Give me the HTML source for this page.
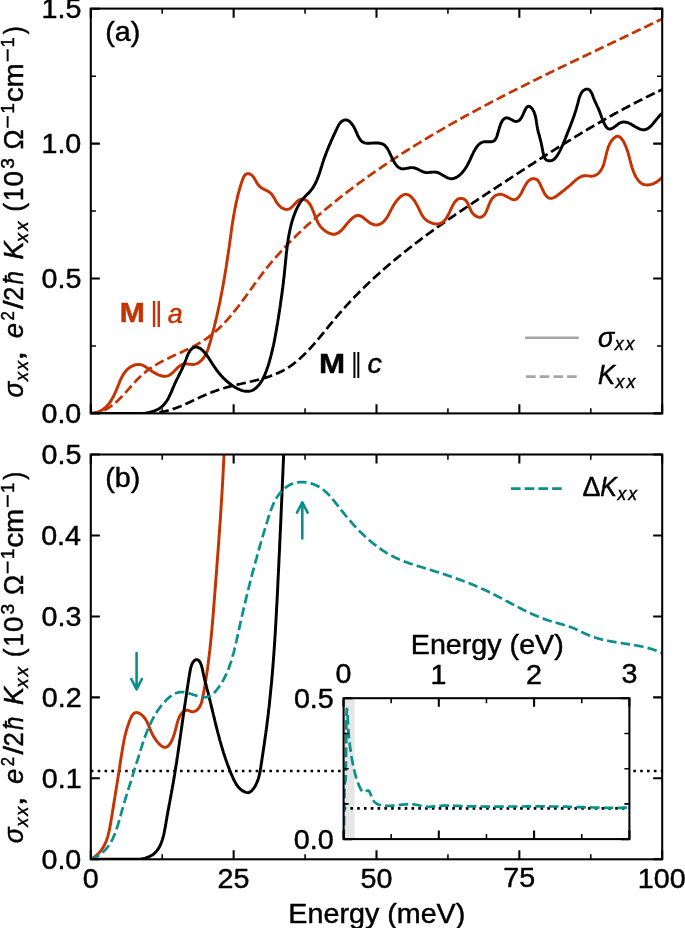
<!DOCTYPE html>
<html><head><meta charset="utf-8"><style>
html,body{margin:0;padding:0;background:#fff;}
svg{display:block;font-family:"Liberation Sans",sans-serif;-webkit-font-smoothing:antialiased;}
svg{will-change:transform;}
text{stroke-width:0.45px;}
</style></head><body>
<svg width="685" height="928" viewBox="0 0 685 928">
<rect width="685" height="928" fill="#fff"/>
<defs>
<clipPath id="ca"><rect x="90.8" y="8.6" width="571.4000000000001" height="404.79999999999995"/></clipPath>
<clipPath id="cb"><rect x="90.8" y="454.5" width="571.4000000000001" height="404.79999999999995"/></clipPath>
<clipPath id="ci"><rect x="343.6" y="698.2" width="285.79999999999995" height="140.89999999999998"/></clipPath>
</defs>
<g clip-path="url(#ca)" fill="none" stroke-linejoin="round">
<path d="M91.2,414.2 92.3,414.1 93.3,413.9 94.4,413.7 95.4,413.5 96.4,413.2 97.4,413.0 98.4,412.7 99.4,412.4 100.3,412.0 101.2,411.7 102.2,411.3 103.1,410.9 104.0,410.5 104.8,410.0 105.7,409.6 106.6,409.1 107.4,408.6 108.2,408.1 109.0,407.6 109.9,407.0 110.6,406.5 111.4,405.9 112.2,405.3 113.0,404.7 113.7,404.1 114.5,403.5 115.2,402.9 116.0,402.2 116.7,401.6 117.4,400.9 118.1,400.3 118.8,399.6 119.5,398.9 120.2,398.2 120.9,397.5 121.6,396.8 122.3,396.1 123.0,395.3 123.7,394.6 124.3,393.9 125.0,393.1 125.7,392.4 126.4,391.6 127.0,390.9 127.7,390.1 128.4,389.4 129.0,388.6 129.7,387.9 130.4,387.1 131.0,386.4 131.7,385.6 132.4,384.9 133.0,384.1 133.7,383.4 134.4,382.7 135.1,381.9 135.8,381.2 136.4,380.5 137.1,379.7 137.8,379.0 138.5,378.3 139.2,377.6 140.0,376.9 140.7,376.2 141.4,375.5 142.1,374.8 142.9,374.2 143.6,373.5 144.4,372.9 145.2,372.2 145.9,371.6 146.7,371.0 147.5,370.4 148.3,369.8 149.1,369.2 149.9,368.7 150.7,368.1 151.6,367.5 152.4,367.0 153.2,366.4 154.1,365.9 154.9,365.4 155.8,364.9 156.7,364.4 157.5,363.9 158.4,363.4 159.3,362.9 160.2,362.4 161.1,361.9 161.9,361.4 162.8,361.0 163.7,360.5 164.6,360.0 165.5,359.6 166.5,359.1 167.4,358.7 168.3,358.2 169.2,357.8 170.1,357.4 171.0,356.9 171.9,356.5 172.9,356.1 173.8,355.6 174.7,355.2 175.6,354.8 176.6,354.4 177.5,353.9 178.4,353.5 179.3,353.1 180.3,352.7 181.2,352.2 182.1,351.8 183.0,351.4 184.0,351.0 184.9,350.5 185.8,350.1 186.7,349.7 187.6,349.2 188.5,348.8 189.4,348.3 190.3,347.9 191.2,347.5 192.1,347.0 193.0,346.6 193.9,346.1 194.8,345.6 195.7,345.2 196.5,344.7 197.4,344.2 198.3,343.7 199.1,343.2 200.0,342.7 200.8,342.2 201.7,341.7 202.5,341.2 203.3,340.7 204.1,340.1 205.0,339.6 205.8,339.1 206.6,338.5 207.4,337.9 208.1,337.4 208.9,336.8 209.7,336.2 210.5,335.6 211.2,335.0 212.0,334.4 212.7,333.8 213.5,333.2 214.2,332.6 215.0,331.9 215.7,331.3 216.4,330.7 217.1,330.0 217.8,329.4 218.6,328.7 219.3,328.1 220.0,327.4 220.7,326.7 221.3,326.0 222.0,325.3 222.7,324.6 223.4,324.0 224.1,323.3 224.7,322.5 225.4,321.8 226.0,321.1 226.7,320.4 227.4,319.7 228.0,319.0 228.6,318.2 229.3,317.5 229.9,316.7 230.6,316.0 231.2,315.3 231.8,314.5 232.4,313.7 233.1,313.0 233.7,312.2 234.3,311.5 234.9,310.7 235.5,309.9 236.1,309.2 236.7,308.4 237.4,307.6 238.0,306.8 238.6,306.0 239.2,305.2 239.8,304.5 240.4,303.7 240.9,302.9 241.5,302.1 242.1,301.3 242.7,300.5 243.3,299.7 243.9,298.9 244.5,298.1 245.1,297.3 245.7,296.5 246.3,295.7 246.8,294.9 247.4,294.1 248.0,293.2 248.6,292.4 249.2,291.6 249.8,290.8 250.3,290.0 250.9,289.2 251.5,288.4 252.1,287.6 252.7,286.8 253.3,285.9 253.9,285.1 254.4,284.3 255.0,283.5 255.6,282.7 256.2,281.9 256.8,281.1 257.4,280.3 258.0,279.5 258.6,278.7 259.2,277.9 259.8,277.0 260.4,276.2 261.0,275.4 261.6,274.6 262.2,273.9 262.8,273.1 263.4,272.3 264.0,271.5 264.6,270.7 265.3,269.9 265.9,269.1 266.5,268.3 267.1,267.5 267.8,266.8 268.4,266.0 269.0,265.2 269.7,264.4 270.3,263.7 270.9,262.9 271.6,262.1 272.2,261.4 272.9,260.6 273.5,259.9 274.2,259.1 274.8,258.3 275.5,257.6 276.1,256.8 276.8,256.1 277.5,255.3 278.1,254.6 278.8,253.8 279.5,253.1 280.1,252.4 280.8,251.6 281.5,250.9 282.1,250.2 282.8,249.4 283.5,248.7 284.2,248.0 284.9,247.2 285.6,246.5 286.2,245.8 286.9,245.1 287.6,244.3 288.3,243.6 289.0,242.9 289.7,242.2 290.4,241.5 291.1,240.8 291.8,240.1 292.5,239.4 293.2,238.6 293.9,237.9 294.7,237.2 295.4,236.5 296.1,235.8 296.8,235.1 297.5,234.4 298.2,233.8 299.0,233.1 299.7,232.4 300.4,231.7 301.1,231.0 301.8,230.3 302.6,229.6 303.3,228.9 304.0,228.3 304.8,227.6 305.5,226.9 306.2,226.2 307.0,225.6 307.7,224.9 308.4,224.2 309.2,223.5 309.9,222.9 310.7,222.2 311.4,221.5 312.2,220.9 312.9,220.2 313.7,219.5 314.4,218.9 315.2,218.2 315.9,217.6 316.7,216.9 317.4,216.3 318.2,215.6 318.9,215.0 319.7,214.3 320.4,213.7 321.2,213.0 322.0,212.4 322.7,211.7 323.5,211.1 324.3,210.4 325.0,209.8 325.8,209.1 326.6,208.5 327.3,207.9 328.1,207.2 328.9,206.6 329.6,206.0 330.4,205.3 331.2,204.7 331.9,204.1 332.7,203.4 333.5,202.8 334.3,202.2 335.0,201.6 335.8,200.9 336.6,200.3 337.4,199.7 338.2,199.1 338.9,198.4 339.7,197.8 340.5,197.2 341.3,196.6 342.1,196.0 342.9,195.4 343.6,194.7 344.4,194.1 345.2,193.5 346.0,192.9 346.8,192.3 347.6,191.7 348.4,191.1 349.2,190.5 350.0,189.9 350.8,189.3 351.6,188.7 352.3,188.1 353.1,187.5 353.9,186.9 354.7,186.3 355.5,185.7 356.3,185.1 357.1,184.5 357.9,183.9 358.7,183.3 359.5,182.7 360.3,182.1 361.2,181.6 362.0,181.0 362.8,180.4 363.6,179.8 364.4,179.2 365.2,178.6 366.0,178.0 366.8,177.5 367.6,176.9 368.4,176.3 369.2,175.7 370.0,175.2 370.9,174.6 371.7,174.0 372.5,173.4 373.3,172.9 374.1,172.3 374.9,171.7 375.8,171.1 376.6,170.6 377.4,170.0 378.2,169.4 379.0,168.9 379.9,168.3 380.7,167.8 381.5,167.2 382.3,166.6 383.2,166.1 384.0,165.5 384.8,165.0 385.6,164.4 386.5,163.8 387.3,163.3 388.1,162.7 388.9,162.2 389.8,161.6 390.6,161.1 391.4,160.5 392.3,160.0 393.1,159.4 393.9,158.9 394.8,158.3 395.6,157.8 396.4,157.2 397.3,156.7 398.1,156.1 398.9,155.6 399.8,155.1 400.6,154.5 401.5,154.0 402.3,153.4 403.1,152.9 404.0,152.4 404.8,151.8 405.7,151.3 406.5,150.8 407.3,150.2 408.2,149.7 409.0,149.2 409.9,148.6 410.7,148.1 411.6,147.6 412.4,147.1 413.3,146.5 414.1,146.0 415.0,145.5 415.8,144.9 416.7,144.4 417.5,143.9 418.4,143.4 419.2,142.9 420.1,142.3 420.9,141.8 421.8,141.3 422.6,140.8 423.5,140.3 424.3,139.7 425.2,139.2 426.0,138.7 426.9,138.2 427.8,137.7 428.6,137.2 429.5,136.7 430.3,136.1 431.2,135.6 432.1,135.1 432.9,134.6 433.8,134.1 434.6,133.6 435.5,133.1 436.4,132.6 437.2,132.1 438.1,131.6 438.9,131.1 439.8,130.6 440.7,130.1 441.5,129.6 442.4,129.1 443.3,128.6 444.1,128.1 445.0,127.6 445.9,127.1 446.7,126.6 447.6,126.1 448.5,125.6 449.3,125.1 450.2,124.6 451.1,124.1 452.0,123.6 452.8,123.1 453.7,122.6 454.6,122.1 455.4,121.7 456.3,121.2 457.2,120.7 458.1,120.2 458.9,119.7 459.8,119.2 460.7,118.7 461.6,118.2 462.4,117.8 463.3,117.3 464.2,116.8 465.1,116.3 465.9,115.8 466.8,115.3 467.7,114.9 468.6,114.4 469.5,113.9 470.3,113.4 471.2,112.9 472.1,112.5 473.0,112.0 473.9,111.5 474.7,111.0 475.6,110.6 476.5,110.1 477.4,109.6 478.3,109.1 479.1,108.7 480.0,108.2 480.9,107.7 481.8,107.2 482.7,106.8 483.6,106.3 484.5,105.8 485.3,105.4 486.2,104.9 487.1,104.4 488.0,104.0 488.9,103.5 489.8,103.0 490.7,102.6 491.5,102.1 492.4,101.6 493.3,101.2 494.2,100.7 495.1,100.2 496.0,99.8 496.9,99.3 497.8,98.9 498.7,98.4 499.5,97.9 500.4,97.5 501.3,97.0 502.2,96.6 503.1,96.1 504.0,95.6 504.9,95.2 505.8,94.7 506.7,94.3 507.6,93.8 508.5,93.3 509.3,92.9 510.2,92.4 511.1,92.0 512.0,91.5 512.9,91.1 513.8,90.6 514.7,90.2 515.6,89.7 516.5,89.3 517.4,88.8 518.3,88.4 519.2,87.9 520.1,87.5 521.0,87.0 521.9,86.6 522.8,86.1 523.7,85.7 524.6,85.2 525.5,84.8 526.4,84.3 527.2,83.9 528.1,83.4 529.0,83.0 529.9,82.5 530.8,82.1 531.7,81.6 532.6,81.2 533.5,80.7 534.4,80.3 535.3,79.9 536.2,79.4 537.1,79.0 538.0,78.5 538.9,78.1 539.8,77.6 540.7,77.2 541.6,76.8 542.5,76.3 543.4,75.9 544.3,75.4 545.2,75.0 546.1,74.5 547.0,74.1 547.9,73.7 548.8,73.2 549.7,72.8 550.6,72.3 551.5,71.9 552.4,71.5 553.3,71.0 554.2,70.6 555.1,70.2 556.0,69.7 556.9,69.3 557.8,68.8 558.7,68.4 559.6,68.0 560.5,67.5 561.4,67.1 562.3,66.7 563.2,66.2 564.1,65.8 565.0,65.4 565.9,64.9 566.8,64.5 567.7,64.1 568.6,63.6 569.5,63.2 570.4,62.8 571.3,62.3 572.2,61.9 573.1,61.5 574.1,61.0 575.0,60.6 575.9,60.2 576.8,59.7 577.7,59.3 578.6,58.9 579.5,58.4 580.4,58.0 581.3,57.6 582.2,57.1 583.1,56.7 584.0,56.3 584.9,55.8 585.8,55.4 586.7,55.0 587.6,54.6 588.5,54.1 589.4,53.7 590.3,53.3 591.2,52.8 592.1,52.4 593.0,52.0 593.9,51.5 594.8,51.1 595.7,50.7 596.6,50.3 597.5,49.8 598.4,49.4 599.3,49.0 600.2,48.5 601.1,48.1 602.0,47.7 602.9,47.3 603.8,46.8 604.7,46.4 605.6,46.0 606.5,45.5 607.4,45.1 608.3,44.7 609.2,44.3 610.1,43.8 611.0,43.4 611.9,43.0 612.8,42.5 613.7,42.1 614.6,41.7 615.5,41.3 616.4,40.8 617.3,40.4 618.2,40.0 619.1,39.5 620.0,39.1 620.9,38.7 621.8,38.3 622.7,37.8 623.6,37.4 624.5,37.0 625.4,36.5 626.3,36.1 627.2,35.7 628.1,35.3 629.0,34.8 629.9,34.4 630.7,34.0 631.6,33.5 632.5,33.1 633.4,32.7 634.3,32.3 635.2,31.8 636.1,31.4 637.0,31.0 637.9,30.5 638.8,30.1 639.7,29.7 640.6,29.3 641.5,28.8 642.4,28.4 643.3,28.0 644.2,27.5 645.1,27.1 646.0,26.7 646.8,26.3 647.7,25.8 648.6,25.4 649.5,25.0 650.4,24.5 651.3,24.1 652.2,23.7 653.1,23.2 654.0,22.8 654.9,22.4 655.8,22.0 656.6,21.5 657.5,21.1 658.4,20.7 659.3,20.2 660.2,19.8 661.1,19.4 662.0,18.9 662.9,18.5" stroke="#c43300" stroke-width="2.7" stroke-dasharray="9.6 4.1"/>
<path d="M91.0,413.1 92.0,413.1 93.0,413.1 94.0,413.1 94.9,413.1 95.9,413.1 96.9,413.1 97.9,413.1 98.9,413.1 99.9,413.2 100.9,413.2 101.9,413.2 102.9,413.2 103.9,413.3 104.9,413.3 105.9,413.3 106.9,413.4 107.9,413.4 108.9,413.4 109.9,413.5 110.9,413.5 111.9,413.5 112.9,413.6 113.9,413.6 114.9,413.6 115.9,413.7 116.9,413.7 118.0,413.8 119.0,413.8 120.0,413.8 121.0,413.9 122.0,413.9 123.0,413.9 124.0,414.0 125.0,414.0 126.1,414.0 127.1,414.0 128.1,414.1 129.1,414.1 130.1,414.1 131.1,414.1 132.1,414.1 133.2,414.1 134.2,414.1 135.2,414.1 136.2,414.1 137.2,414.1 138.2,414.1 139.2,414.1 140.2,414.1 141.2,414.0 142.2,414.0 143.2,414.0 144.2,413.9 145.2,413.9 146.2,413.8 147.2,413.7 148.2,413.7 149.2,413.6 150.2,413.5 151.2,413.4 152.2,413.3 153.2,413.2 154.2,413.1 155.2,413.0 156.1,412.9 157.1,412.7 158.1,412.6 159.1,412.4 160.0,412.3 161.0,412.1 162.0,411.9 162.9,411.7 163.9,411.5 164.8,411.3 165.8,411.1 166.7,410.9 167.7,410.6 168.6,410.4 169.6,410.1 170.5,409.8 171.5,409.5 172.4,409.3 173.3,408.9 174.2,408.6 175.2,408.3 176.1,408.0 177.0,407.6 177.9,407.3 178.8,406.9 179.7,406.6 180.7,406.2 181.6,405.8 182.5,405.4 183.4,405.0 184.3,404.6 185.2,404.2 186.1,403.8 187.0,403.4 187.9,403.0 188.8,402.6 189.7,402.2 190.6,401.8 191.4,401.3 192.3,400.9 193.2,400.5 194.1,400.1 195.0,399.7 195.9,399.2 196.8,398.8 197.7,398.4 198.6,398.0 199.5,397.6 200.4,397.1 201.3,396.7 202.2,396.3 203.1,395.9 204.0,395.5 204.9,395.1 205.8,394.7 206.7,394.3 207.7,394.0 208.6,393.6 209.5,393.2 210.4,392.8 211.3,392.5 212.2,392.1 213.2,391.7 214.1,391.4 215.0,391.0 216.0,390.7 216.9,390.4 217.8,390.1 218.8,389.7 219.7,389.4 220.7,389.1 221.6,388.8 222.6,388.5 223.6,388.2 224.5,388.0 225.5,387.7 226.5,387.4 227.4,387.1 228.4,386.9 229.4,386.6 230.3,386.4 231.3,386.1 232.3,385.9 233.3,385.6 234.3,385.4 235.2,385.1 236.2,384.9 237.2,384.7 238.2,384.4 239.2,384.2 240.2,384.0 241.2,383.8 242.1,383.5 243.1,383.3 244.1,383.1 245.1,382.9 246.1,382.6 247.1,382.4 248.1,382.2 249.0,382.0 250.0,381.7 251.0,381.5 252.0,381.3 253.0,381.0 253.9,380.8 254.9,380.6 255.9,380.3 256.9,380.1 257.8,379.8 258.8,379.6 259.7,379.3 260.7,379.0 261.7,378.8 262.6,378.5 263.6,378.2 264.5,378.0 265.5,377.7 266.4,377.4 267.3,377.1 268.3,376.8 269.2,376.5 270.1,376.2 271.0,375.8 271.9,375.5 272.9,375.2 273.8,374.8 274.7,374.5 275.6,374.1 276.4,373.7 277.3,373.3 278.2,372.9 279.1,372.5 279.9,372.1 280.8,371.7 281.7,371.3 282.5,370.8 283.4,370.4 284.2,369.9 285.0,369.5 285.8,369.0 286.7,368.5 287.5,368.0 288.3,367.5 289.1,367.0 289.9,366.4 290.6,365.9 291.4,365.3 292.2,364.8 293.0,364.2 293.7,363.6 294.5,363.0 295.3,362.4 296.0,361.8 296.7,361.2 297.5,360.6 298.2,360.0 299.0,359.4 299.7,358.7 300.4,358.1 301.1,357.4 301.8,356.8 302.6,356.1 303.3,355.4 304.0,354.7 304.7,354.0 305.4,353.4 306.1,352.7 306.7,352.0 307.4,351.2 308.1,350.5 308.8,349.8 309.5,349.1 310.2,348.4 310.8,347.6 311.5,346.9 312.2,346.1 312.8,345.4 313.5,344.7 314.2,343.9 314.8,343.1 315.5,342.4 316.1,341.6 316.8,340.9 317.4,340.1 318.1,339.3 318.7,338.5 319.4,337.8 320.0,337.0 320.7,336.2 321.3,335.4 322.0,334.6 322.6,333.8 323.3,333.1 323.9,332.3 324.6,331.5 325.2,330.7 325.8,329.9 326.5,329.1 327.1,328.3 327.8,327.5 328.4,326.7 329.1,325.9 329.7,325.1 330.3,324.3 331.0,323.6 331.6,322.8 332.3,322.0 332.9,321.2 333.6,320.4 334.2,319.6 334.9,318.8 335.5,318.1 336.2,317.3 336.8,316.5 337.5,315.7 338.2,315.0 338.8,314.2 339.5,313.4 340.2,312.7 340.8,311.9 341.5,311.1 342.2,310.4 342.8,309.6 343.5,308.9 344.2,308.1 344.9,307.4 345.5,306.6 346.2,305.9 346.9,305.1 347.6,304.4 348.3,303.6 348.9,302.9 349.6,302.2 350.3,301.4 351.0,300.7 351.7,300.0 352.4,299.2 353.1,298.5 353.8,297.8 354.5,297.0 355.2,296.3 355.9,295.6 356.6,294.9 357.3,294.2 358.0,293.5 358.7,292.7 359.4,292.0 360.1,291.3 360.8,290.6 361.5,289.9 362.2,289.2 362.9,288.5 363.7,287.8 364.4,287.1 365.1,286.4 365.8,285.7 366.5,285.0 367.3,284.3 368.0,283.6 368.7,282.9 369.4,282.3 370.2,281.6 370.9,280.9 371.6,280.2 372.3,279.5 373.1,278.9 373.8,278.2 374.5,277.5 375.3,276.8 376.0,276.2 376.7,275.5 377.5,274.8 378.2,274.2 379.0,273.5 379.7,272.8 380.5,272.2 381.2,271.5 381.9,270.8 382.7,270.2 383.4,269.5 384.2,268.9 384.9,268.2 385.7,267.6 386.4,266.9 387.2,266.3 388.0,265.6 388.7,265.0 389.5,264.3 390.2,263.7 391.0,263.0 391.7,262.4 392.5,261.8 393.3,261.1 394.0,260.5 394.8,259.8 395.6,259.2 396.3,258.6 397.1,257.9 397.9,257.3 398.6,256.7 399.4,256.1 400.2,255.4 400.9,254.8 401.7,254.2 402.5,253.6 403.3,252.9 404.0,252.3 404.8,251.7 405.6,251.1 406.4,250.5 407.2,249.9 407.9,249.2 408.7,248.6 409.5,248.0 410.3,247.4 411.1,246.8 411.9,246.2 412.6,245.6 413.4,245.0 414.2,244.4 415.0,243.8 415.8,243.2 416.6,242.6 417.4,242.0 418.2,241.4 419.0,240.8 419.8,240.2 420.5,239.6 421.3,239.0 422.1,238.4 422.9,237.8 423.7,237.2 424.5,236.6 425.3,236.0 426.1,235.4 426.9,234.8 427.7,234.2 428.5,233.6 429.3,233.1 430.1,232.5 430.9,231.9 431.7,231.3 432.6,230.7 433.4,230.1 434.2,229.6 435.0,229.0 435.8,228.4 436.6,227.8 437.4,227.2 438.2,226.7 439.0,226.1 439.8,225.5 440.6,224.9 441.5,224.4 442.3,223.8 443.1,223.2 443.9,222.6 444.7,222.1 445.5,221.5 446.3,220.9 447.2,220.4 448.0,219.8 448.8,219.2 449.6,218.7 450.4,218.1 451.2,217.5 452.1,217.0 452.9,216.4 453.7,215.8 454.5,215.3 455.3,214.7 456.2,214.1 457.0,213.6 457.8,213.0 458.6,212.5 459.5,211.9 460.3,211.3 461.1,210.8 461.9,210.2 462.8,209.7 463.6,209.1 464.4,208.6 465.2,208.0 466.1,207.4 466.9,206.9 467.7,206.3 468.5,205.8 469.4,205.2 470.2,204.7 471.0,204.1 471.9,203.6 472.7,203.0 473.5,202.4 474.3,201.9 475.2,201.3 476.0,200.8 476.8,200.2 477.7,199.7 478.5,199.1 479.3,198.6 480.2,198.0 481.0,197.5 481.8,196.9 482.7,196.4 483.5,195.8 484.3,195.3 485.2,194.7 486.0,194.2 486.8,193.6 487.7,193.1 488.5,192.5 489.3,192.0 490.2,191.5 491.0,190.9 491.8,190.4 492.7,189.8 493.5,189.3 494.3,188.7 495.2,188.2 496.0,187.6 496.8,187.1 497.7,186.5 498.5,186.0 499.3,185.4 500.2,184.9 501.0,184.3 501.8,183.8 502.7,183.2 503.5,182.7 504.4,182.2 505.2,181.6 506.0,181.1 506.9,180.5 507.7,180.0 508.5,179.4 509.4,178.9 510.2,178.3 511.0,177.8 511.9,177.2 512.7,176.7 513.6,176.1 514.4,175.6 515.2,175.0 516.1,174.5 516.9,174.0 517.7,173.4 518.6,172.9 519.4,172.3 520.2,171.8 521.1,171.2 521.9,170.7 522.8,170.1 523.6,169.6 524.4,169.0 525.3,168.5 526.1,168.0 526.9,167.4 527.8,166.9 528.6,166.3 529.5,165.8 530.3,165.2 531.1,164.7 532.0,164.2 532.8,163.6 533.7,163.1 534.5,162.5 535.3,162.0 536.2,161.4 537.0,160.9 537.9,160.4 538.7,159.8 539.5,159.3 540.4,158.7 541.2,158.2 542.1,157.7 542.9,157.1 543.7,156.6 544.6,156.0 545.4,155.5 546.3,155.0 547.1,154.4 548.0,153.9 548.8,153.4 549.6,152.8 550.5,152.3 551.3,151.7 552.2,151.2 553.0,150.7 553.9,150.1 554.7,149.6 555.5,149.1 556.4,148.5 557.2,148.0 558.1,147.5 558.9,146.9 559.8,146.4 560.6,145.9 561.5,145.4 562.3,144.8 563.2,144.3 564.0,143.8 564.9,143.2 565.7,142.7 566.6,142.2 567.4,141.7 568.3,141.1 569.1,140.6 570.0,140.1 570.8,139.6 571.7,139.0 572.5,138.5 573.4,138.0 574.2,137.5 575.1,137.0 575.9,136.4 576.8,135.9 577.6,135.4 578.5,134.9 579.3,134.4 580.2,133.8 581.0,133.3 581.9,132.8 582.7,132.3 583.6,131.8 584.5,131.3 585.3,130.8 586.2,130.3 587.0,129.7 587.9,129.2 588.7,128.7 589.6,128.2 590.5,127.7 591.3,127.2 592.2,126.7 593.0,126.2 593.9,125.7 594.8,125.2 595.6,124.7 596.5,124.2 597.3,123.7 598.2,123.2 599.1,122.7 599.9,122.2 600.8,121.7 601.7,121.2 602.5,120.7 603.4,120.2 604.3,119.7 605.1,119.2 606.0,118.7 606.9,118.2 607.7,117.7 608.6,117.2 609.5,116.7 610.3,116.2 611.2,115.8 612.1,115.3 612.9,114.8 613.8,114.3 614.7,113.8 615.6,113.3 616.4,112.9 617.3,112.4 618.2,111.9 619.0,111.4 619.9,110.9 620.8,110.5 621.7,110.0 622.6,109.5 623.4,109.0 624.3,108.6 625.2,108.1 626.1,107.6 626.9,107.2 627.8,106.7 628.7,106.2 629.6,105.8 630.5,105.3 631.3,104.8 632.2,104.4 633.1,103.9 634.0,103.4 634.9,103.0 635.8,102.5 636.7,102.1 637.5,101.6 638.4,101.2 639.3,100.7 640.2,100.3 641.1,99.8 642.0,99.4 642.9,98.9 643.8,98.5 644.7,98.0 645.5,97.6 646.4,97.1 647.3,96.7 648.2,96.2 649.1,95.8 650.0,95.4 650.9,94.9 651.8,94.5 652.7,94.1 653.6,93.6 654.5,93.2 655.4,92.8 656.3,92.3 657.2,91.9 658.1,91.5 659.0,91.1 659.9,90.6 660.8,90.2 661.7,89.8 662.6,89.4 663.5,89.0" stroke="#000" stroke-width="2.7" stroke-dasharray="9.6 4.1"/>
<path d="M90.7,413.3 91.8,413.2 93.0,413.1 94.1,412.9 95.2,412.7 96.2,412.4 97.2,412.1 98.1,411.8 99.1,411.5 100.0,411.1 100.9,410.6 101.7,410.2 102.5,409.7 103.3,409.1 104.1,408.6 104.8,408.0 105.5,407.4 106.2,406.7 106.9,406.0 107.5,405.3 108.2,404.6 108.8,403.9 109.4,403.1 109.9,402.3 110.5,401.5 111.0,400.7 111.5,399.9 112.0,399.0 112.5,398.1 113.0,397.2 113.5,396.3 113.9,395.4 114.4,394.5 114.8,393.6 115.2,392.6 115.6,391.7 116.0,390.8 116.4,389.8 116.8,388.8 117.2,387.9 117.6,386.9 118.0,385.9 118.4,385.0 118.8,384.0 119.1,383.1 119.5,382.1 119.9,381.2 120.3,380.2 120.8,379.3 121.2,378.4 121.6,377.5 122.1,376.6 122.6,375.8 123.1,374.9 123.6,374.1 124.1,373.3 124.7,372.5 125.3,371.7 125.9,371.0 126.5,370.3 127.2,369.6 127.9,368.9 128.6,368.3 129.4,367.7 130.2,367.2 131.1,366.6 132.0,366.2 132.9,365.7 133.8,365.3 134.7,365.0 135.7,364.8 136.7,364.6 137.6,364.5 138.6,364.4 139.5,364.4 140.4,364.6 141.3,364.8 142.2,365.1 143.1,365.5 144.0,365.9 144.8,366.4 145.7,366.9 146.5,367.5 147.4,368.1 148.2,368.7 149.1,369.3 150.0,369.9 150.9,370.6 151.8,371.2 152.7,371.8 153.6,372.3 154.6,372.9 155.5,373.4 156.4,373.9 157.4,374.4 158.3,374.8 159.3,375.2 160.2,375.5 161.1,375.8 162.1,376.0 163.0,376.2 163.9,376.3 164.8,376.3 165.7,376.3 166.6,376.1 167.4,375.9 168.3,375.6 169.1,375.2 169.9,374.8 170.7,374.2 171.5,373.6 172.3,373.0 173.1,372.2 173.8,371.5 174.6,370.7 175.4,370.0 176.1,369.2 176.9,368.4 177.7,367.7 178.5,367.0 179.3,366.3 180.1,365.7 180.9,365.2 181.7,364.7 182.6,364.3 183.5,364.1 184.4,363.9 185.3,363.8 186.3,363.9 187.3,363.9 188.3,364.1 189.2,364.2 190.2,364.3 191.2,364.4 192.2,364.5 193.2,364.5 194.2,364.4 195.1,364.2 196.1,363.9 197.0,363.5 197.9,363.1 198.7,362.5 199.6,362.0 200.3,361.3 201.1,360.7 201.8,360.0 202.4,359.3 203.1,358.5 203.7,357.8 204.2,357.0 204.7,356.2 205.2,355.3 205.7,354.5 206.1,353.6 206.6,352.7 206.9,351.8 207.3,350.9 207.7,350.0 208.0,349.1 208.3,348.1 208.6,347.2 208.9,346.2 209.2,345.3 209.5,344.3 209.8,343.3 210.1,342.4 210.4,341.4 210.6,340.4 210.9,339.5 211.2,338.5 211.4,337.5 211.7,336.6 212.0,335.6 212.2,334.6 212.5,333.7 212.7,332.7 213.0,331.7 213.2,330.7 213.5,329.8 213.7,328.8 214.0,327.8 214.2,326.9 214.5,325.9 214.7,324.9 214.9,323.9 215.2,323.0 215.4,322.0 215.7,321.0 215.9,320.1 216.1,319.1 216.3,318.1 216.6,317.1 216.8,316.2 217.0,315.2 217.2,314.2 217.5,313.2 217.7,312.3 217.9,311.3 218.1,310.3 218.3,309.3 218.5,308.3 218.7,307.4 218.9,306.4 219.2,305.4 219.4,304.4 219.6,303.5 219.8,302.5 220.0,301.5 220.2,300.5 220.4,299.5 220.6,298.6 220.7,297.6 220.9,296.6 221.1,295.6 221.3,294.7 221.5,293.7 221.7,292.7 221.9,291.7 222.1,290.7 222.2,289.8 222.4,288.8 222.6,287.8 222.8,286.8 223.0,285.8 223.1,284.9 223.3,283.9 223.5,282.9 223.7,281.9 223.8,280.9 224.0,279.9 224.2,279.0 224.3,278.0 224.5,277.0 224.7,276.0 224.8,275.0 225.0,274.0 225.2,273.1 225.3,272.1 225.5,271.1 225.6,270.1 225.8,269.1 226.0,268.2 226.1,267.2 226.3,266.2 226.4,265.2 226.6,264.2 226.7,263.2 226.9,262.3 227.0,261.3 227.2,260.3 227.3,259.3 227.5,258.3 227.6,257.3 227.8,256.3 227.9,255.4 228.1,254.4 228.2,253.4 228.4,252.4 228.5,251.4 228.6,250.4 228.8,249.5 228.9,248.5 229.1,247.5 229.2,246.5 229.3,245.5 229.5,244.5 229.6,243.5 229.7,242.6 229.9,241.6 230.0,240.6 230.2,239.6 230.3,238.6 230.4,237.6 230.6,236.7 230.7,235.7 230.8,234.7 231.0,233.7 231.1,232.7 231.2,231.7 231.4,230.7 231.5,229.8 231.7,228.8 231.8,227.8 231.9,226.8 232.1,225.8 232.2,224.8 232.4,223.8 232.5,222.8 232.7,221.9 232.8,220.9 233.0,219.9 233.2,218.9 233.3,217.9 233.5,216.9 233.6,215.9 233.8,215.0 234.0,214.0 234.2,213.0 234.3,212.0 234.5,211.0 234.7,210.0 234.9,209.0 235.1,208.0 235.3,207.1 235.5,206.1 235.7,205.1 235.9,204.1 236.1,203.1 236.3,202.1 236.5,201.1 236.8,200.1 237.0,199.1 237.2,198.1 237.4,197.2 237.7,196.2 237.9,195.2 238.2,194.2 238.4,193.2 238.7,192.2 239.0,191.2 239.3,190.2 239.5,189.2 239.8,188.2 240.1,187.2 240.4,186.3 240.7,185.3 241.0,184.3 241.3,183.3 241.7,182.3 242.0,181.3 242.3,180.3 242.7,179.3 243.1,178.4 243.5,177.5 243.9,176.7 244.4,175.9 244.9,175.2 245.4,174.6 246.0,174.2 246.7,173.8 247.4,173.6 248.1,173.6 249.0,173.7 249.8,174.0 250.6,174.4 251.4,174.9 252.1,175.5 252.8,176.2 253.4,177.0 254.0,177.9 254.6,178.8 255.1,179.8 255.7,180.7 256.2,181.7 256.8,182.7 257.4,183.6 258.0,184.5 258.6,185.3 259.3,186.1 260.0,186.8 260.8,187.4 261.6,188.0 262.5,188.5 263.3,188.9 264.2,189.4 265.1,189.8 266.0,190.2 266.8,190.7 267.7,191.1 268.5,191.6 269.3,192.1 270.0,192.6 270.8,193.3 271.4,193.9 272.0,194.7 272.6,195.5 273.1,196.3 273.7,197.1 274.2,198.0 274.7,198.9 275.2,199.8 275.7,200.8 276.2,201.7 276.8,202.6 277.4,203.4 278.0,204.3 278.7,205.1 279.4,205.8 280.1,206.5 280.9,207.2 281.7,207.8 282.6,208.3 283.4,208.7 284.3,209.0 285.2,209.3 286.1,209.4 286.9,209.4 287.8,209.3 288.7,209.1 289.5,208.8 290.4,208.3 291.2,207.6 292.0,206.9 292.8,206.1 293.5,205.3 294.3,204.4 295.1,203.6 295.9,202.7 296.6,201.9 297.4,201.2 298.2,200.6 299.0,200.1 299.9,199.7 300.7,199.4 301.5,199.3 302.4,199.3 303.2,199.3 304.0,199.5 304.8,199.8 305.6,200.1 306.3,200.6 307.1,201.1 307.8,201.7 308.4,202.4 309.1,203.2 309.7,204.0 310.2,204.9 310.8,205.8 311.3,206.7 311.7,207.7 312.2,208.7 312.6,209.7 313.0,210.7 313.4,211.7 313.8,212.6 314.2,213.6 314.5,214.6 314.9,215.5 315.3,216.5 315.6,217.4 316.0,218.3 316.4,219.2 316.7,220.1 317.2,221.0 317.6,221.8 318.0,222.7 318.5,223.5 319.0,224.3 319.5,225.1 320.1,225.9 320.7,226.7 321.4,227.5 322.1,228.2 322.8,228.9 323.6,229.6 324.5,230.3 325.3,231.0 326.2,231.6 327.2,232.2 328.1,232.7 329.1,233.1 330.0,233.5 331.0,233.8 331.9,234.0 332.9,234.2 333.8,234.2 334.6,234.2 335.5,234.0 336.3,233.8 337.1,233.4 337.9,233.0 338.6,232.6 339.4,232.0 340.1,231.5 340.8,230.8 341.6,230.1 342.3,229.4 343.0,228.6 343.7,227.8 344.3,227.0 345.0,226.2 345.7,225.3 346.4,224.4 347.1,223.6 347.8,222.7 348.6,221.9 349.3,221.1 350.1,220.3 350.8,219.5 351.6,218.8 352.4,218.1 353.2,217.4 354.0,216.9 354.8,216.4 355.6,216.0 356.5,215.7 357.3,215.5 358.1,215.5 359.0,215.5 359.8,215.7 360.6,216.0 361.4,216.4 362.3,216.9 363.1,217.5 363.9,218.1 364.7,218.8 365.6,219.5 366.4,220.2 367.3,220.9 368.1,221.6 369.0,222.2 369.9,222.8 370.8,223.4 371.7,223.9 372.6,224.2 373.5,224.5 374.4,224.8 375.3,224.9 376.2,224.9 377.1,224.9 378.0,224.7 378.9,224.5 379.8,224.2 380.6,223.8 381.4,223.4 382.2,222.8 383.0,222.2 383.7,221.6 384.4,220.8 385.0,220.1 385.7,219.3 386.3,218.4 386.9,217.5 387.4,216.6 388.0,215.7 388.5,214.8 389.0,213.8 389.5,212.9 390.0,211.9 390.5,211.0 390.9,210.1 391.4,209.2 391.8,208.4 392.3,207.5 392.7,206.7 393.2,205.9 393.7,205.0 394.2,204.2 394.8,203.4 395.4,202.5 396.0,201.7 396.6,200.8 397.3,200.0 398.0,199.1 398.8,198.4 399.5,197.6 400.3,196.9 401.1,196.3 401.9,195.7 402.7,195.3 403.5,194.9 404.3,194.6 405.1,194.4 405.9,194.3 406.7,194.4 407.5,194.6 408.2,194.9 409.0,195.3 409.8,195.7 410.5,196.3 411.2,196.9 411.9,197.6 412.6,198.4 413.3,199.2 413.9,200.1 414.6,201.0 415.2,201.9 415.8,202.9 416.3,203.9 416.9,204.9 417.4,205.9 417.9,206.8 418.4,207.8 418.8,208.8 419.3,209.7 419.7,210.6 420.1,211.5 420.6,212.4 421.0,213.3 421.5,214.2 422.0,215.0 422.5,215.8 423.0,216.6 423.6,217.4 424.2,218.1 424.8,218.8 425.5,219.4 426.3,220.1 427.1,220.7 428.0,221.2 428.8,221.7 429.7,222.2 430.7,222.6 431.6,223.0 432.6,223.3 433.6,223.6 434.6,223.8 435.5,223.9 436.5,223.9 437.5,223.9 438.4,223.9 439.3,223.7 440.2,223.5 441.0,223.2 441.8,222.8 442.6,222.3 443.3,221.7 444.0,221.1 444.6,220.4 445.2,219.7 445.8,218.9 446.4,218.0 447.0,217.2 447.5,216.2 448.0,215.3 448.5,214.3 449.0,213.3 449.5,212.3 450.0,211.2 450.5,210.2 450.9,209.2 451.4,208.1 451.9,207.1 452.4,206.1 452.9,205.1 453.4,204.2 454.0,203.3 454.5,202.5 455.1,201.7 455.7,201.0 456.4,200.3 457.0,199.8 457.7,199.3 458.4,198.9 459.2,198.6 460.0,198.4 460.8,198.4 461.7,198.4 462.6,198.6 463.4,198.9 464.3,199.3 465.0,199.8 465.7,200.4 466.4,201.2 466.9,202.0 467.5,202.9 468.0,203.8 468.4,204.8 468.9,205.8 469.3,206.8 469.7,207.9 470.2,208.9 470.7,209.9 471.1,210.9 471.7,211.9 472.3,212.8 472.9,213.6 473.6,214.3 474.3,215.0 475.1,215.6 475.8,216.1 476.6,216.5 477.5,216.8 478.3,217.1 479.1,217.2 479.9,217.2 480.7,217.2 481.5,217.0 482.2,216.7 482.9,216.3 483.5,215.7 484.1,215.1 484.7,214.3 485.2,213.5 485.7,212.6 486.2,211.6 486.7,210.6 487.1,209.5 487.5,208.5 488.0,207.3 488.4,206.2 488.8,205.1 489.3,204.0 489.7,203.0 490.2,201.9 490.7,201.0 491.2,200.0 491.8,199.2 492.4,198.4 493.0,197.7 493.7,197.0 494.3,196.4 495.0,195.9 495.7,195.4 496.5,195.1 497.3,194.8 498.0,194.5 498.9,194.4 499.7,194.3 500.5,194.3 501.4,194.4 502.3,194.6 503.2,194.9 504.2,195.2 505.1,195.7 506.1,196.2 507.0,196.7 508.0,197.3 509.0,197.8 509.9,198.3 510.9,198.8 511.8,199.2 512.7,199.5 513.5,199.7 514.3,199.7 515.1,199.6 515.8,199.4 516.5,199.0 517.2,198.5 517.9,197.9 518.5,197.3 519.1,196.5 519.7,195.7 520.3,194.8 520.8,193.9 521.4,192.9 521.9,191.9 522.4,190.8 523.0,189.8 523.5,188.7 524.0,187.7 524.6,186.6 525.1,185.6 525.7,184.7 526.2,183.8 526.8,182.9 527.4,182.1 528.1,181.3 528.7,180.7 529.4,180.1 530.1,179.6 530.9,179.2 531.7,178.9 532.5,178.7 533.3,178.7 534.2,178.7 535.0,178.9 535.8,179.2 536.6,179.5 537.3,180.0 537.9,180.6 538.5,181.3 539.0,182.1 539.5,183.0 540.0,183.9 540.5,184.9 540.9,185.9 541.4,187.0 541.9,188.1 542.4,189.2 542.9,190.3 543.5,191.4 544.0,192.4 544.6,193.4 545.2,194.4 545.8,195.3 546.4,196.1 547.1,196.8 547.7,197.3 548.4,197.8 549.2,198.1 549.9,198.3 550.7,198.4 551.5,198.3 552.3,198.1 553.1,197.9 554.0,197.5 554.8,197.1 555.6,196.6 556.5,196.1 557.4,195.5 558.2,194.8 559.0,194.2 559.9,193.5 560.7,192.9 561.5,192.2 562.3,191.6 563.1,191.0 563.9,190.4 564.6,189.7 565.4,189.1 566.1,188.5 566.9,187.9 567.6,187.3 568.4,186.7 569.1,186.1 569.8,185.5 570.6,184.8 571.3,184.1 572.1,183.4 572.9,182.7 573.6,182.0 574.4,181.3 575.2,180.6 576.0,179.9 576.9,179.2 577.7,178.6 578.5,178.0 579.4,177.5 580.3,177.0 581.2,176.6 582.1,176.2 583.0,176.0 584.0,175.8 584.9,175.7 585.9,175.7 586.9,175.8 587.9,175.9 588.9,176.0 589.9,176.1 590.8,176.2 591.8,176.2 592.7,176.1 593.5,175.9 594.4,175.7 595.2,175.4 596.0,175.0 596.7,174.6 597.4,174.1 598.1,173.6 598.8,173.0 599.4,172.3 600.0,171.6 600.5,170.9 601.1,170.1 601.5,169.3 602.0,168.4 602.4,167.6 602.8,166.7 603.2,165.8 603.5,164.8 603.8,163.9 604.1,162.9 604.4,161.9 604.6,160.9 604.9,159.9 605.1,158.9 605.4,157.9 605.6,156.8 605.9,155.8 606.1,154.8 606.4,153.7 606.6,152.7 606.9,151.7 607.2,150.6 607.5,149.6 607.8,148.6 608.1,147.6 608.5,146.6 608.9,145.7 609.3,144.8 609.7,143.8 610.2,142.9 610.7,142.1 611.2,141.2 611.8,140.4 612.4,139.7 613.0,139.0 613.7,138.3 614.4,137.7 615.2,137.1 615.9,136.7 616.7,136.4 617.4,136.3 618.1,136.3 618.8,136.5 619.5,136.9 620.2,137.3 620.8,137.9 621.5,138.6 622.1,139.4 622.7,140.2 623.2,141.1 623.8,142.1 624.3,143.1 624.8,144.2 625.3,145.2 625.7,146.2 626.1,147.3 626.5,148.3 626.9,149.3 627.2,150.3 627.6,151.3 627.9,152.2 628.2,153.2 628.4,154.2 628.7,155.1 629.0,156.1 629.2,157.0 629.5,158.0 629.7,158.9 629.9,159.9 630.2,160.8 630.4,161.7 630.7,162.6 630.9,163.6 631.1,164.5 631.4,165.4 631.7,166.3 631.9,167.2 632.2,168.2 632.5,169.1 632.9,170.0 633.2,170.9 633.6,171.9 634.0,172.8 634.4,173.7 634.8,174.7 635.3,175.6 635.8,176.6 636.3,177.5 636.9,178.4 637.5,179.3 638.1,180.1 638.7,180.9 639.4,181.7 640.2,182.4 640.9,183.0 641.7,183.5 642.6,184.0 643.4,184.3 644.3,184.6 645.3,184.8 646.2,184.9 647.2,184.9 648.2,184.9 649.1,184.8 650.1,184.6 651.1,184.4 652.1,184.1 653.1,183.8 654.0,183.4 654.9,182.9 655.9,182.4 656.7,181.9 657.6,181.3 658.4,180.7 659.2,180.1 659.9,179.4 660.7,178.7 661.4,178.1 662.1,177.4 662.8,176.7 663.5,176.0" stroke="#c43300" stroke-width="2.95"/>
<path d="M91.1,413.4 92.0,413.4 93.0,413.4 94.0,413.4 95.0,413.4 96.0,413.4 96.9,413.4 97.9,413.4 98.9,413.4 99.9,413.4 100.9,413.4 101.9,413.4 102.9,413.4 103.9,413.4 104.9,413.4 105.9,413.4 106.9,413.4 107.9,413.4 108.9,413.4 109.9,413.4 110.9,413.4 111.9,413.4 112.9,413.4 113.9,413.4 115.0,413.4 116.0,413.4 117.0,413.4 118.0,413.4 119.0,413.4 120.0,413.4 121.0,413.4 122.1,413.4 123.1,413.4 124.1,413.4 125.1,413.4 126.1,413.4 127.1,413.4 128.1,413.4 129.1,413.4 130.1,413.4 131.1,413.4 132.2,413.4 133.2,413.4 134.2,413.4 135.2,413.4 136.2,413.4 137.2,413.4 138.2,413.4 139.2,413.4 140.1,413.8 141.1,413.8 142.1,413.7 143.1,413.5 144.1,413.4 145.1,413.3 146.0,413.1 147.0,412.9 148.0,412.7 149.0,412.5 149.9,412.3 150.9,412.0 151.8,411.8 152.7,411.5 153.7,411.1 154.6,410.8 155.5,410.4 156.3,410.0 157.2,409.6 158.0,409.2 158.9,408.7 159.7,408.2 160.5,407.6 161.2,407.1 162.0,406.5 162.7,405.8 163.4,405.2 164.1,404.5 164.7,403.7 165.3,403.0 165.9,402.2 166.5,401.3 167.0,400.5 167.6,399.6 168.1,398.7 168.6,397.8 169.1,396.9 169.5,395.9 170.0,395.0 170.4,394.0 170.8,393.0 171.3,392.1 171.7,391.1 172.1,390.1 172.5,389.1 172.9,388.2 173.3,387.2 173.7,386.3 174.1,385.3 174.5,384.4 174.9,383.5 175.4,382.6 175.8,381.7 176.2,380.8 176.6,379.9 177.0,379.1 177.5,378.2 177.9,377.4 178.3,376.5 178.7,375.7 179.2,374.8 179.6,374.0 180.0,373.1 180.4,372.3 180.9,371.4 181.3,370.5 181.7,369.7 182.1,368.8 182.5,367.9 182.9,367.0 183.3,366.1 183.7,365.2 184.1,364.2 184.5,363.2 184.9,362.3 185.3,361.3 185.7,360.3 186.1,359.2 186.4,358.2 186.8,357.2 187.2,356.2 187.7,355.2 188.1,354.2 188.6,353.2 189.0,352.3 189.6,351.5 190.1,350.6 190.7,349.9 191.4,349.2 192.0,348.6 192.8,348.0 193.6,347.6 194.4,347.2 195.2,347.0 196.1,347.0 196.9,347.1 197.8,347.4 198.6,347.7 199.4,348.1 200.2,348.6 201.0,349.1 201.7,349.7 202.4,350.3 203.1,351.0 203.8,351.7 204.5,352.4 205.2,353.2 205.8,354.0 206.4,354.8 207.1,355.7 207.7,356.5 208.3,357.4 208.9,358.3 209.5,359.2 210.0,360.1 210.6,361.0 211.2,361.9 211.7,362.8 212.3,363.7 212.9,364.6 213.4,365.4 214.0,366.2 214.5,367.1 215.1,367.9 215.7,368.7 216.2,369.5 216.8,370.3 217.4,371.0 218.0,371.8 218.6,372.6 219.2,373.3 219.8,374.0 220.4,374.8 221.0,375.5 221.7,376.2 222.3,376.9 223.0,377.6 223.7,378.3 224.4,378.9 225.1,379.6 225.8,380.3 226.5,381.0 227.3,381.6 228.1,382.3 228.9,382.9 229.7,383.6 230.6,384.2 231.4,384.9 232.3,385.5 233.2,386.1 234.1,386.7 235.0,387.2 235.9,387.8 236.8,388.3 237.7,388.7 238.7,389.2 239.6,389.6 240.6,390.0 241.5,390.3 242.4,390.6 243.4,390.9 244.3,391.1 245.3,391.2 246.2,391.3 247.1,391.3 248.0,391.3 248.9,391.2 249.8,391.1 250.7,390.9 251.6,390.6 252.4,390.3 253.3,389.9 254.1,389.4 254.9,388.8 255.7,388.2 256.4,387.6 257.2,386.8 257.9,386.1 258.6,385.3 259.3,384.5 259.9,383.7 260.5,382.8 261.1,381.9 261.6,381.1 262.2,380.2 262.7,379.3 263.1,378.4 263.6,377.5 264.0,376.6 264.4,375.7 264.8,374.7 265.2,373.8 265.6,372.9 265.9,372.0 266.3,371.0 266.6,370.1 266.9,369.2 267.2,368.2 267.6,367.3 267.9,366.4 268.2,365.4 268.5,364.5 268.8,363.5 269.1,362.6 269.3,361.6 269.6,360.7 269.9,359.7 270.2,358.7 270.4,357.8 270.7,356.8 270.9,355.9 271.2,354.9 271.4,353.9 271.7,353.0 271.9,352.0 272.1,351.0 272.4,350.0 272.6,349.1 272.8,348.1 273.0,347.1 273.3,346.1 273.5,345.2 273.7,344.2 273.9,343.2 274.1,342.2 274.3,341.2 274.5,340.2 274.7,339.3 274.9,338.3 275.0,337.3 275.2,336.3 275.4,335.3 275.6,334.3 275.8,333.3 275.9,332.4 276.1,331.4 276.3,330.4 276.5,329.4 276.6,328.4 276.8,327.4 277.0,326.4 277.1,325.4 277.3,324.4 277.5,323.5 277.6,322.5 277.8,321.5 277.9,320.5 278.1,319.5 278.3,318.5 278.4,317.5 278.6,316.6 278.7,315.6 278.9,314.6 279.0,313.6 279.2,312.6 279.3,311.6 279.5,310.6 279.6,309.7 279.8,308.7 279.9,307.7 280.1,306.7 280.2,305.7 280.4,304.7 280.5,303.8 280.6,302.8 280.8,301.8 280.9,300.8 281.1,299.8 281.2,298.8 281.3,297.9 281.5,296.9 281.6,295.9 281.8,294.9 281.9,293.9 282.0,292.9 282.2,291.9 282.3,291.0 282.4,290.0 282.5,289.0 282.7,288.0 282.8,287.0 282.9,286.0 283.0,285.0 283.2,284.0 283.3,283.0 283.4,282.1 283.5,281.1 283.6,280.1 283.7,279.1 283.9,278.1 284.0,277.1 284.1,276.1 284.2,275.1 284.3,274.1 284.4,273.1 284.5,272.1 284.6,271.1 284.7,270.1 284.8,269.1 284.9,268.1 285.0,267.1 285.1,266.1 285.2,265.1 285.3,264.1 285.4,263.1 285.5,262.1 285.6,261.1 285.7,260.1 285.8,259.1 285.9,258.1 286.0,257.1 286.1,256.1 286.2,255.1 286.3,254.0 286.4,253.0 286.5,252.0 286.7,251.0 286.8,250.0 286.9,249.0 287.0,248.0 287.1,247.0 287.3,246.0 287.4,245.0 287.5,244.0 287.6,243.0 287.8,242.0 287.9,241.0 288.1,240.1 288.2,239.1 288.4,238.1 288.6,237.1 288.7,236.1 288.9,235.1 289.1,234.1 289.3,233.1 289.5,232.2 289.7,231.2 289.9,230.2 290.1,229.2 290.3,228.3 290.5,227.3 290.8,226.3 291.0,225.4 291.2,224.4 291.5,223.5 291.8,222.5 292.0,221.6 292.3,220.6 292.6,219.7 292.9,218.7 293.2,217.8 293.5,216.8 293.9,215.9 294.2,215.0 294.5,214.1 294.9,213.1 295.3,212.2 295.6,211.3 296.0,210.4 296.4,209.5 296.8,208.6 297.3,207.7 297.7,206.8 298.2,205.9 298.6,205.1 299.1,204.2 299.6,203.4 300.2,202.5 300.7,201.7 301.3,200.9 301.9,200.1 302.5,199.4 303.1,198.6 303.8,197.9 304.5,197.1 305.2,196.4 305.9,195.7 306.6,195.0 307.3,194.3 308.0,193.6 308.7,192.9 309.4,192.2 310.0,191.4 310.7,190.7 311.3,189.9 311.9,189.1 312.4,188.3 313.0,187.5 313.5,186.7 314.0,185.8 314.5,184.9 315.0,184.1 315.4,183.2 315.9,182.3 316.3,181.4 316.7,180.5 317.1,179.5 317.5,178.6 317.8,177.7 318.2,176.7 318.6,175.8 318.9,174.8 319.2,173.8 319.6,172.9 319.9,171.9 320.2,170.9 320.5,170.0 320.8,169.0 321.1,168.0 321.4,167.0 321.7,166.1 322.0,165.1 322.3,164.1 322.6,163.2 322.9,162.2 323.3,161.2 323.6,160.3 323.9,159.3 324.2,158.4 324.5,157.5 324.9,156.5 325.2,155.6 325.6,154.7 325.9,153.8 326.3,152.8 326.6,151.9 327.0,151.0 327.3,150.1 327.7,149.2 328.1,148.3 328.5,147.4 328.8,146.5 329.2,145.6 329.6,144.7 330.0,143.8 330.4,142.9 330.8,141.9 331.2,141.0 331.6,140.1 332.0,139.2 332.4,138.3 332.8,137.4 333.2,136.5 333.7,135.5 334.1,134.6 334.5,133.7 334.9,132.8 335.4,131.8 335.8,130.9 336.3,129.9 336.7,129.0 337.1,128.0 337.6,127.1 338.1,126.2 338.6,125.2 339.1,124.4 339.7,123.5 340.3,122.8 340.9,122.1 341.6,121.4 342.4,120.9 343.2,120.4 344.1,120.1 345.0,119.9 345.9,119.9 346.8,120.0 347.7,120.3 348.5,120.7 349.3,121.3 350.1,121.9 350.8,122.7 351.5,123.5 352.1,124.3 352.7,125.1 353.3,126.0 353.8,126.8 354.2,127.7 354.7,128.5 355.1,129.4 355.5,130.3 355.9,131.2 356.3,132.2 356.8,133.1 357.2,134.1 357.6,135.1 358.1,136.1 358.6,137.1 359.2,138.1 359.7,139.0 360.4,139.9 361.0,140.7 361.7,141.3 362.4,141.9 363.2,142.3 364.0,142.7 364.8,142.9 365.7,143.1 366.6,143.2 367.5,143.3 368.5,143.3 369.4,143.3 370.4,143.2 371.4,143.1 372.4,143.1 373.4,143.0 374.4,143.0 375.4,142.9 376.4,142.9 377.4,143.0 378.4,143.0 379.3,143.2 380.3,143.3 381.2,143.6 382.0,143.8 382.9,144.2 383.6,144.6 384.4,145.1 385.1,145.7 385.7,146.4 386.3,147.1 386.9,147.9 387.5,148.7 388.0,149.6 388.5,150.5 389.0,151.4 389.5,152.4 389.9,153.4 390.4,154.4 390.8,155.4 391.3,156.4 391.8,157.4 392.3,158.5 392.8,159.5 393.3,160.4 393.8,161.4 394.3,162.3 394.9,163.2 395.5,164.1 396.1,164.9 396.7,165.6 397.3,166.3 398.0,166.9 398.7,167.5 399.5,167.9 400.2,168.3 401.0,168.6 401.9,168.8 402.8,168.9 403.7,168.8 404.7,168.7 405.6,168.6 406.7,168.4 407.7,168.2 408.7,168.0 409.7,167.8 410.8,167.6 411.8,167.6 412.8,167.6 413.7,167.8 414.7,168.0 415.6,168.3 416.6,168.7 417.5,169.1 418.4,169.5 419.3,170.0 420.2,170.5 421.1,170.9 422.0,171.3 422.9,171.7 423.8,172.0 424.8,172.3 425.7,172.5 426.7,172.6 427.6,172.6 428.6,172.5 429.6,172.4 430.6,172.3 431.6,172.2 432.6,172.1 433.6,172.1 434.5,172.0 435.5,172.1 436.5,172.3 437.4,172.5 438.4,172.8 439.3,173.2 440.2,173.7 441.1,174.2 442.0,174.7 442.9,175.2 443.8,175.8 444.7,176.3 445.6,176.8 446.5,177.3 447.3,177.7 448.2,178.1 449.1,178.4 450.0,178.6 450.9,178.7 451.8,178.7 452.6,178.6 453.5,178.5 454.4,178.2 455.3,177.9 456.2,177.4 457.0,177.0 457.9,176.4 458.7,175.8 459.5,175.2 460.3,174.5 461.1,173.7 461.8,173.0 462.5,172.2 463.2,171.3 463.9,170.5 464.5,169.7 465.2,168.8 465.7,167.9 466.3,167.0 466.8,166.2 467.3,165.3 467.8,164.4 468.3,163.5 468.7,162.6 469.1,161.7 469.6,160.8 470.0,159.9 470.4,159.0 470.8,158.1 471.2,157.2 471.6,156.3 472.0,155.4 472.4,154.5 472.9,153.6 473.3,152.8 473.7,151.9 474.2,151.0 474.7,150.2 475.2,149.3 475.7,148.5 476.3,147.7 476.8,146.9 477.4,146.1 478.1,145.3 478.7,144.6 479.4,144.0 480.2,143.4 480.9,142.9 481.7,142.5 482.6,142.1 483.5,141.9 484.4,141.7 485.4,141.7 486.3,141.7 487.3,141.7 488.3,141.7 489.3,141.8 490.2,141.8 491.1,141.8 492.0,141.6 492.8,141.4 493.5,141.1 494.2,140.7 494.8,140.1 495.3,139.5 495.8,138.7 496.2,137.9 496.6,137.0 497.0,136.0 497.3,134.9 497.7,133.8 498.0,132.7 498.3,131.5 498.6,130.4 499.0,129.2 499.3,128.0 499.7,126.8 500.1,125.7 500.5,124.6 500.9,123.5 501.4,122.5 501.9,121.5 502.4,120.7 503.0,119.9 503.6,119.3 504.2,118.7 504.9,118.3 505.6,118.0 506.3,117.8 507.1,117.9 508.0,118.0 508.9,118.4 509.8,118.8 510.7,119.3 511.7,119.8 512.6,120.3 513.5,120.8 514.4,121.1 515.2,121.4 516.0,121.5 516.7,121.4 517.5,121.3 518.1,121.0 518.8,120.6 519.4,120.2 520.0,119.6 520.5,118.9 521.1,118.1 521.6,117.3 522.1,116.4 522.6,115.4 523.1,114.3 523.6,113.2 524.1,112.1 524.6,111.0 525.1,110.0 525.6,109.0 526.1,108.1 526.7,107.4 527.2,106.8 527.9,106.5 528.5,106.3 529.2,106.4 529.9,106.7 530.6,107.2 531.3,107.8 531.9,108.5 532.5,109.2 533.0,110.0 533.5,110.8 533.9,111.7 534.3,112.6 534.6,113.6 534.9,114.5 535.2,115.5 535.5,116.6 535.7,117.6 535.9,118.7 536.1,119.8 536.3,120.9 536.4,121.9 536.6,123.0 536.8,124.1 536.9,125.2 537.1,126.2 537.3,127.2 537.5,128.3 537.7,129.2 537.9,130.2 538.1,131.1 538.3,132.1 538.6,133.0 538.8,133.9 539.1,134.8 539.3,135.7 539.6,136.6 539.8,137.5 540.0,138.4 540.3,139.3 540.5,140.2 540.7,141.2 541.0,142.1 541.2,143.0 541.4,144.0 541.6,145.0 541.8,146.0 542.0,147.0 542.2,148.0 542.4,149.1 542.6,150.2 542.8,151.3 543.1,152.4 543.3,153.6 543.5,154.7 543.8,155.8 544.2,156.8 544.6,157.7 545.0,158.6 545.6,159.3 546.2,159.9 546.9,160.3 547.7,160.6 548.6,160.8 549.4,160.8 550.3,160.8 551.2,160.6 552.1,160.3 553.0,159.9 553.8,159.4 554.6,158.8 555.3,158.1 555.9,157.3 556.6,156.5 557.2,155.6 557.7,154.8 558.3,153.8 558.8,152.9 559.3,152.0 559.8,151.1 560.3,150.1 560.7,149.2 561.2,148.3 561.6,147.3 562.0,146.4 562.5,145.4 562.9,144.5 563.3,143.6 563.7,142.6 564.1,141.7 564.5,140.8 564.8,139.8 565.2,138.9 565.6,138.0 565.9,137.1 566.3,136.1 566.7,135.2 567.0,134.3 567.4,133.4 567.7,132.5 568.1,131.6 568.4,130.7 568.8,129.8 569.2,128.9 569.5,128.0 569.9,127.1 570.2,126.2 570.6,125.2 570.9,124.3 571.3,123.4 571.6,122.5 572.0,121.6 572.3,120.7 572.6,119.8 573.0,118.9 573.3,117.9 573.6,117.0 574.0,116.1 574.3,115.1 574.6,114.2 574.9,113.2 575.2,112.2 575.5,111.3 575.9,110.3 576.2,109.3 576.4,108.3 576.7,107.3 577.0,106.2 577.3,105.2 577.6,104.2 577.9,103.1 578.1,102.0 578.4,101.0 578.7,99.9 579.0,98.9 579.3,97.9 579.6,96.9 580.0,95.9 580.4,95.0 580.8,94.1 581.2,93.3 581.7,92.5 582.2,91.8 582.8,91.1 583.4,90.6 584.1,90.1 584.8,89.6 585.6,89.3 586.4,89.1 587.2,89.1 588.0,89.2 588.7,89.5 589.4,89.9 590.1,90.6 590.7,91.4 591.3,92.4 591.8,93.4 592.3,94.5 592.8,95.7 593.2,96.9 593.6,98.0 594.0,99.0 594.4,100.0 594.8,100.9 595.2,101.8 595.6,102.7 596.0,103.5 596.4,104.3 596.7,105.1 597.1,105.9 597.4,106.6 597.8,107.4 598.2,108.2 598.5,109.0 598.9,109.8 599.2,110.7 599.6,111.6 600.0,112.5 600.3,113.5 600.7,114.6 601.1,115.6 601.5,116.8 601.9,117.9 602.3,119.0 602.8,120.2 603.2,121.3 603.7,122.4 604.2,123.4 604.7,124.4 605.2,125.4 605.7,126.2 606.3,127.0 606.9,127.6 607.5,128.2 608.2,128.6 608.9,128.9 609.6,129.1 610.3,129.0 611.1,128.8 611.9,128.5 612.8,128.0 613.7,127.5 614.5,126.8 615.4,126.2 616.3,125.5 617.2,124.8 618.1,124.1 619.0,123.5 619.9,123.0 620.8,122.6 621.7,122.3 622.5,122.1 623.4,122.0 624.2,122.0 625.0,122.1 625.9,122.2 626.7,122.4 627.5,122.6 628.4,122.9 629.2,123.3 630.0,123.7 630.9,124.1 631.7,124.6 632.6,125.1 633.5,125.6 634.4,126.2 635.3,126.7 636.3,127.2 637.2,127.8 638.1,128.2 639.1,128.7 640.0,129.1 641.0,129.4 641.9,129.6 642.8,129.8 643.7,129.8 644.6,129.7 645.5,129.5 646.3,129.3 647.1,128.9 647.9,128.4 648.7,127.9 649.5,127.3 650.2,126.7 651.0,125.9 651.7,125.2 652.4,124.4 653.1,123.6 653.8,122.7 654.5,121.9 655.2,121.0 655.9,120.1 656.6,119.3 657.3,118.4 658.0,117.6 658.6,116.8 659.3,116.0 660.0,115.3 660.7,114.6 661.4,114.0 662.1,113.4 662.8,113.0 663.5,112.6" stroke="#000" stroke-width="2.95"/>
</g>
<g clip-path="url(#cb)" fill="none" stroke-linejoin="round">
<path d="M90.8,771.05H662.2" stroke="#000" stroke-width="2.6" stroke-dasharray="2.6 4.267"/>
<path d="M90.7,859.3 91.7,858.8 92.6,858.2 93.5,857.6 94.4,857.0 95.2,856.4 96.0,855.7 96.8,855.0 97.6,854.4 98.3,853.7 99.0,852.9 99.6,852.2 100.3,851.5 100.9,850.7 101.5,849.9 102.0,849.1 102.5,848.3 103.1,847.5 103.5,846.7 104.0,845.8 104.5,845.0 104.9,844.1 105.3,843.2 105.7,842.3 106.0,841.4 106.4,840.5 106.7,839.6 107.1,838.7 107.4,837.8 107.7,836.8 107.9,835.9 108.2,834.9 108.4,833.9 108.7,833.0 108.9,832.0 109.1,831.0 109.4,830.0 109.6,829.0 109.8,828.1 109.9,827.1 110.1,826.1 110.3,825.1 110.5,824.1 110.7,823.1 110.8,822.1 111.0,821.1 111.1,820.0 111.3,819.0 111.5,818.0 111.6,817.0 111.8,816.0 112.0,815.0 112.1,814.0 112.3,813.0 112.4,812.0 112.6,811.0 112.8,810.0 112.9,809.1 113.1,808.1 113.3,807.1 113.4,806.1 113.6,805.1 113.7,804.1 113.9,803.1 114.1,802.1 114.2,801.1 114.4,800.1 114.5,799.1 114.7,798.2 114.9,797.2 115.0,796.2 115.2,795.2 115.3,794.2 115.5,793.2 115.6,792.2 115.8,791.2 116.0,790.3 116.1,789.3 116.3,788.3 116.4,787.3 116.6,786.3 116.8,785.4 116.9,784.4 117.1,783.4 117.2,782.4 117.4,781.4 117.5,780.4 117.7,779.5 117.8,778.5 118.0,777.5 118.2,776.5 118.3,775.5 118.5,774.6 118.6,773.6 118.8,772.6 118.9,771.6 119.1,770.6 119.2,769.7 119.4,768.7 119.5,767.7 119.7,766.7 119.8,765.7 120.0,764.8 120.1,763.8 120.3,762.8 120.4,761.8 120.6,760.9 120.7,759.9 120.9,758.9 121.0,757.9 121.2,756.9 121.3,756.0 121.5,755.0 121.6,754.0 121.8,753.0 122.0,752.0 122.1,751.0 122.3,750.1 122.4,749.1 122.6,748.1 122.8,747.1 122.9,746.1 123.1,745.2 123.3,744.2 123.5,743.2 123.7,742.2 123.8,741.2 124.0,740.2 124.2,739.3 124.5,738.3 124.7,737.3 124.9,736.3 125.1,735.3 125.4,734.3 125.6,733.3 125.9,732.4 126.1,731.4 126.4,730.4 126.7,729.4 127.0,728.4 127.3,727.4 127.6,726.4 127.9,725.5 128.3,724.5 128.6,723.5 129.0,722.5 129.3,721.5 129.7,720.5 130.1,719.5 130.5,718.6 130.9,717.6 131.4,716.7 131.9,715.8 132.4,715.0 132.9,714.3 133.5,713.7 134.2,713.2 134.9,712.8 135.7,712.6 136.5,712.5 137.4,712.6 138.3,712.9 139.2,713.3 140.1,713.8 141.0,714.3 141.8,715.0 142.6,715.7 143.3,716.4 144.0,717.2 144.6,718.0 145.2,718.9 145.8,719.8 146.4,720.7 146.9,721.7 147.4,722.6 147.8,723.6 148.2,724.5 148.6,725.4 149.0,726.3 149.3,727.2 149.7,728.0 150.0,728.9 150.3,729.7 150.7,730.5 151.0,731.4 151.4,732.2 151.8,733.1 152.3,734.0 152.8,735.0 153.3,735.9 153.9,736.9 154.5,737.9 155.1,738.8 155.7,739.8 156.4,740.7 157.1,741.6 157.8,742.4 158.5,743.3 159.2,744.0 159.9,744.7 160.7,745.4 161.4,745.9 162.1,746.4 162.8,746.8 163.5,747.1 164.2,747.3 164.9,747.3 165.6,747.3 166.2,747.1 166.9,746.9 167.5,746.5 168.1,746.0 168.7,745.5 169.2,744.8 169.8,744.1 170.3,743.3 170.8,742.5 171.3,741.6 171.7,740.6 172.2,739.6 172.6,738.6 173.1,737.5 173.5,736.4 173.8,735.3 174.2,734.2 174.6,733.0 174.9,731.9 175.2,730.8 175.5,729.7 175.8,728.6 176.1,727.5 176.4,726.4 176.6,725.4 176.9,724.3 177.1,723.3 177.4,722.3 177.7,721.4 178.0,720.5 178.3,719.5 178.6,718.7 179.0,717.8 179.3,717.0 179.7,716.2 180.2,715.4 180.7,714.7 181.2,714.0 181.7,713.3 182.3,712.7 183.0,712.1 183.7,711.5 184.5,711.0 185.3,710.5 186.2,710.2 187.1,710.2 188.0,710.4 188.9,710.7 189.9,711.1 190.8,711.5 191.8,711.7 192.7,711.7 193.6,711.6 194.5,711.4 195.3,711.0 196.0,710.6 196.7,710.2 197.4,709.7 198.0,709.1 198.5,708.5 199.0,707.8 199.5,707.1 199.9,706.3 200.3,705.5 200.7,704.6 201.1,703.8 201.4,702.8 201.7,701.9 201.9,701.0 202.2,700.0 202.4,699.0 202.6,698.0 202.8,696.9 203.0,695.9 203.2,694.9 203.4,693.9 203.6,692.8 203.8,691.8 204.0,690.8 204.2,689.8 204.3,688.7 204.5,687.7 204.7,686.7 204.9,685.7 205.0,684.7 205.2,683.6 205.4,682.6 205.5,681.6 205.7,680.6 205.9,679.6 206.0,678.6 206.2,677.6 206.3,676.5 206.5,675.5 206.6,674.5 206.8,673.5 206.9,672.5 207.1,671.5 207.2,670.5 207.4,669.5 207.5,668.5 207.6,667.5 207.8,666.5 207.9,665.5 208.0,664.5 208.2,663.4 208.3,662.4 208.4,661.4 208.6,660.4 208.7,659.4 208.8,658.4 208.9,657.4 209.1,656.4 209.2,655.5 209.3,654.5 209.4,653.5 209.5,652.5 209.6,651.5 209.8,650.5 209.9,649.5 210.0,648.5 210.1,647.5 210.2,646.5 210.3,645.5 210.4,644.5 210.5,643.5 210.6,642.5 210.7,641.5 210.8,640.5 210.9,639.5 211.0,638.6 211.1,637.6 211.2,636.6 211.3,635.6 211.4,634.6 211.5,633.6 211.6,632.6 211.7,631.6 211.8,630.6 211.9,629.7 212.0,628.7 212.0,627.7 212.1,626.7 212.2,625.7 212.3,624.7 212.4,623.7 212.5,622.7 212.6,621.8 212.6,620.8 212.7,619.8 212.8,618.8 212.9,617.8 213.0,616.8 213.1,615.8 213.1,614.8 213.2,613.9 213.3,612.9 213.4,611.9 213.5,610.9 213.5,609.9 213.6,608.9 213.7,607.9 213.8,607.0 213.8,606.0 213.9,605.0 214.0,604.0 214.1,603.0 214.2,602.0 214.2,601.0 214.3,600.0 214.4,599.0 214.5,598.1 214.5,597.1 214.6,596.1 214.7,595.1 214.8,594.1 214.8,593.1 214.9,592.1 215.0,591.1 215.1,590.1 215.1,589.1 215.2,588.2 215.3,587.2 215.4,586.2 215.5,585.2 215.5,584.2 215.6,583.2 215.7,582.2 215.8,581.2 215.8,580.2 215.9,579.2 216.0,578.2 216.1,577.2 216.1,576.2 216.2,575.2 216.3,574.3 216.4,573.3 216.4,572.3 216.5,571.3 216.6,570.3 216.7,569.3 216.7,568.3 216.8,567.3 216.9,566.3 217.0,565.3 217.0,564.3 217.1,563.3 217.2,562.3 217.3,561.3 217.3,560.3 217.4,559.3 217.5,558.3 217.6,557.3 217.6,556.3 217.7,555.3 217.8,554.3 217.9,553.3 217.9,552.3 218.0,551.3 218.1,550.3 218.2,549.3 218.2,548.3 218.3,547.3 218.4,546.3 218.5,545.3 218.5,544.3 218.6,543.3 218.7,542.3 218.7,541.3 218.8,540.3 218.9,539.3 219.0,538.3 219.0,537.3 219.1,536.3 219.2,535.3 219.2,534.3 219.3,533.3 219.4,532.3 219.5,531.3 219.5,530.3 219.6,529.3 219.7,528.3 219.7,527.3 219.8,526.3 219.9,525.3 219.9,524.3 220.0,523.3 220.1,522.3 220.2,521.3 220.2,520.3 220.3,519.3 220.4,518.3 220.4,517.3 220.5,516.3 220.6,515.3 220.6,514.3 220.7,513.3 220.8,512.3 220.8,511.3 220.9,510.3 221.0,509.3 221.0,508.3 221.1,507.3 221.1,506.3 221.2,505.3 221.3,504.3 221.3,503.3 221.4,502.3 221.5,501.3 221.5,500.3 221.6,499.3 221.7,498.3 221.7,497.3 221.8,496.3 221.8,495.3 221.9,494.3 222.0,493.3 222.0,492.3 222.1,491.3 222.1,490.3 222.2,489.3 222.3,488.3 222.3,487.3 222.4,486.3 222.4,485.3 222.5,484.3 222.5,483.3 222.6,482.3 222.7,481.3 222.7,480.3 222.8,479.3 222.8,478.3 222.9,477.3 222.9,476.3 223.0,475.3 223.0,474.3 223.1,473.3 223.1,472.3 223.2,471.3 223.2,470.3 223.3,469.3 223.3,468.3 223.4,467.3 223.4,466.3 223.5,465.3 223.5,464.3 223.6,463.3 223.6,462.3 223.7,461.4 223.7,460.4 223.8,459.4 223.8,458.4 223.9,457.4 223.9,456.4 224.0,455.4 224.0,454.4 224.1,453.4 224.1,452.4 224.1,451.4 224.2,450.4 224.2,449.4 224.3,448.4 224.3,447.4 224.4,446.4 224.4,445.4 224.4,444.4 224.5,443.4 224.5,442.4 224.6,441.5 224.6,440.5 224.6,439.5 224.7,438.5 224.7,437.5 224.7,436.5 224.8,435.5 224.8,434.5 224.8,433.5 224.9,432.5 224.9,431.5 224.9,430.5" stroke="#c43300" stroke-width="2.95"/>
<path d="M91.0,859.3 92.0,859.3 93.0,859.3 94.0,859.3 95.0,859.3 96.0,859.3 97.0,859.3 98.0,859.3 99.0,859.3 100.0,859.3 101.0,859.3 102.0,859.3 103.0,859.3 104.0,859.3 105.0,859.3 106.0,859.3 107.0,859.3 108.0,859.3 109.0,859.3 110.0,859.3 110.9,859.3 111.9,859.3 112.9,859.3 113.9,859.3 114.9,859.3 115.9,859.3 116.9,859.3 117.9,859.3 118.9,859.3 119.9,859.3 120.9,859.3 121.9,859.3 123.0,859.3 124.0,859.3 125.0,859.3 126.0,859.3 127.0,859.3 128.0,859.3 129.0,859.3 130.1,859.3 131.1,859.3 132.1,859.3 133.2,859.3 134.2,859.3 135.2,859.3 136.2,859.3 137.2,859.3 138.3,859.3 139.3,859.3 140.3,859.2 141.3,859.0 142.2,858.8 143.2,858.6 144.1,858.4 145.1,858.1 146.0,857.8 146.9,857.5 147.8,857.2 148.7,856.9 149.5,856.5 150.3,856.1 151.1,855.6 151.9,855.2 152.7,854.7 153.4,854.2 154.1,853.6 154.8,853.0 155.4,852.4 156.0,851.8 156.6,851.1 157.2,850.4 157.7,849.6 158.2,848.9 158.7,848.1 159.2,847.3 159.6,846.5 160.1,845.6 160.5,844.7 160.9,843.8 161.2,842.9 161.6,842.0 161.9,841.0 162.2,840.1 162.5,839.1 162.8,838.1 163.1,837.1 163.4,836.1 163.6,835.1 163.9,834.1 164.1,833.0 164.3,832.0 164.5,830.9 164.7,829.9 164.9,828.8 165.1,827.7 165.3,826.7 165.5,825.6 165.7,824.5 165.9,823.5 166.0,822.4 166.2,821.4 166.4,820.3 166.6,819.3 166.8,818.2 166.9,817.2 167.1,816.2 167.3,815.1 167.5,814.1 167.7,813.1 167.8,812.1 168.0,811.1 168.2,810.1 168.4,809.1 168.6,808.1 168.8,807.1 168.9,806.1 169.1,805.1 169.3,804.1 169.5,803.2 169.7,802.2 169.9,801.2 170.0,800.2 170.2,799.3 170.4,798.3 170.6,797.3 170.8,796.4 170.9,795.4 171.1,794.4 171.3,793.5 171.5,792.5 171.6,791.6 171.8,790.6 172.0,789.6 172.2,788.7 172.3,787.7 172.5,786.7 172.7,785.8 172.9,784.8 173.0,783.8 173.2,782.9 173.4,781.9 173.5,781.0 173.7,780.0 173.8,779.0 174.0,778.1 174.2,777.1 174.3,776.1 174.5,775.1 174.7,774.2 174.8,773.2 175.0,772.2 175.1,771.3 175.3,770.3 175.4,769.3 175.6,768.4 175.7,767.4 175.9,766.4 176.0,765.4 176.2,764.5 176.4,763.5 176.5,762.5 176.7,761.5 176.8,760.6 176.9,759.6 177.1,758.6 177.2,757.6 177.4,756.7 177.5,755.7 177.7,754.7 177.8,753.7 178.0,752.8 178.1,751.8 178.3,750.8 178.4,749.8 178.6,748.8 178.7,747.8 178.8,746.9 179.0,745.9 179.1,744.9 179.3,743.9 179.4,742.9 179.6,741.9 179.7,741.0 179.8,740.0 180.0,739.0 180.1,738.0 180.3,737.0 180.4,736.0 180.5,735.0 180.7,734.0 180.8,733.1 181.0,732.1 181.1,731.1 181.2,730.1 181.4,729.1 181.5,728.1 181.7,727.1 181.8,726.1 182.0,725.1 182.1,724.1 182.2,723.1 182.4,722.1 182.5,721.1 182.7,720.1 182.8,719.1 182.9,718.1 183.1,717.1 183.2,716.1 183.4,715.1 183.5,714.1 183.7,713.1 183.8,712.1 183.9,711.1 184.1,710.1 184.2,709.1 184.4,708.1 184.5,707.1 184.7,706.1 184.8,705.1 185.0,704.0 185.1,703.0 185.3,702.0 185.4,701.0 185.6,700.0 185.7,699.0 185.9,698.0 186.0,697.0 186.2,695.9 186.3,694.9 186.5,693.9 186.6,692.9 186.8,691.9 186.9,690.9 187.1,689.8 187.2,688.8 187.4,687.8 187.5,686.8 187.7,685.8 187.9,684.7 188.0,683.7 188.2,682.7 188.3,681.7 188.5,680.6 188.7,679.6 188.8,678.6 189.0,677.5 189.2,676.5 189.3,675.5 189.5,674.4 189.7,673.4 189.9,672.4 190.0,671.4 190.2,670.4 190.4,669.4 190.6,668.4 190.9,667.5 191.1,666.5 191.4,665.7 191.7,664.8 192.1,664.0 192.4,663.2 192.8,662.5 193.3,661.9 193.7,661.3 194.3,660.7 194.8,660.3 195.4,659.9 196.1,659.6 196.7,659.6 197.4,659.7 198.0,660.0 198.6,660.4 199.1,660.9 199.6,661.6 200.1,662.3 200.5,663.1 200.9,664.1 201.3,665.0 201.6,666.1 201.9,667.2 202.2,668.3 202.5,669.5 202.7,670.7 203.0,671.9 203.2,673.1 203.5,674.2 203.7,675.4 204.0,676.5 204.2,677.6 204.4,678.7 204.7,679.7 204.9,680.7 205.2,681.7 205.4,682.6 205.7,683.6 205.9,684.5 206.2,685.4 206.4,686.4 206.7,687.3 206.9,688.2 207.1,689.1 207.4,690.1 207.6,691.0 207.9,691.9 208.1,692.9 208.3,693.8 208.6,694.7 208.8,695.7 209.0,696.6 209.3,697.6 209.5,698.5 209.7,699.5 210.0,700.4 210.2,701.4 210.4,702.3 210.7,703.3 210.9,704.2 211.1,705.2 211.3,706.2 211.6,707.1 211.8,708.1 212.0,709.0 212.3,710.0 212.5,711.0 212.7,711.9 213.0,712.9 213.2,713.9 213.4,714.8 213.7,715.8 213.9,716.8 214.1,717.7 214.4,718.7 214.6,719.7 214.8,720.6 215.1,721.6 215.3,722.6 215.6,723.6 215.8,724.5 216.0,725.5 216.3,726.5 216.5,727.5 216.8,728.4 217.0,729.4 217.3,730.4 217.5,731.3 217.8,732.3 218.0,733.3 218.3,734.3 218.5,735.2 218.8,736.2 219.1,737.2 219.3,738.2 219.6,739.1 219.8,740.1 220.1,741.1 220.4,742.0 220.7,743.0 220.9,744.0 221.2,744.9 221.5,745.9 221.8,746.9 222.1,747.8 222.4,748.8 222.6,749.8 222.9,750.7 223.2,751.7 223.5,752.7 223.8,753.6 224.2,754.6 224.5,755.5 224.8,756.5 225.1,757.4 225.4,758.4 225.7,759.3 226.1,760.3 226.4,761.2 226.7,762.2 227.1,763.1 227.4,764.1 227.7,765.0 228.1,765.9 228.4,766.9 228.8,767.8 229.2,768.7 229.5,769.7 229.9,770.6 230.3,771.5 230.6,772.4 231.0,773.4 231.4,774.3 231.8,775.2 232.2,776.1 232.6,777.0 233.0,777.9 233.4,778.8 233.8,779.7 234.3,780.6 234.7,781.5 235.2,782.4 235.7,783.2 236.2,784.1 236.7,784.9 237.3,785.7 237.9,786.5 238.5,787.2 239.2,788.0 239.9,788.7 240.7,789.3 241.5,790.0 242.3,790.6 243.2,791.1 244.2,791.6 245.2,792.1 246.2,792.4 247.2,792.6 248.2,792.6 249.1,792.5 249.9,792.1 250.7,791.6 251.5,790.9 252.2,790.2 252.8,789.4 253.4,788.7 254.0,787.9 254.6,787.0 255.1,786.2 255.6,785.4 256.0,784.5 256.4,783.6 256.8,782.7 257.2,781.8 257.6,780.9 257.9,780.0 258.2,779.1 258.5,778.1 258.8,777.2 259.0,776.2 259.3,775.2 259.5,774.3 259.7,773.3 259.9,772.3 260.1,771.3 260.3,770.3 260.4,769.3 260.6,768.3 260.8,767.3 260.9,766.3 261.1,765.3 261.2,764.3 261.4,763.3 261.5,762.3 261.7,761.3 261.8,760.3 262.0,759.3 262.1,758.3 262.3,757.3 262.4,756.3 262.6,755.3 262.7,754.3 262.9,753.3 263.0,752.3 263.2,751.3 263.3,750.3 263.5,749.3 263.6,748.3 263.8,747.3 263.9,746.3 264.1,745.3 264.2,744.4 264.3,743.4 264.5,742.4 264.6,741.4 264.8,740.4 264.9,739.4 265.0,738.4 265.2,737.4 265.3,736.4 265.5,735.4 265.6,734.4 265.7,733.5 265.9,732.5 266.0,731.5 266.1,730.5 266.3,729.5 266.4,728.5 266.5,727.5 266.7,726.5 266.8,725.5 266.9,724.6 267.0,723.6 267.2,722.6 267.3,721.6 267.4,720.6 267.5,719.6 267.7,718.6 267.8,717.6 267.9,716.7 268.0,715.7 268.2,714.7 268.3,713.7 268.4,712.7 268.5,711.7 268.6,710.7 268.7,709.7 268.8,708.7 269.0,707.7 269.1,706.8 269.2,705.8 269.3,704.8 269.4,703.8 269.5,702.8 269.6,701.8 269.7,700.8 269.8,699.8 269.9,698.8 270.0,697.8 270.1,696.8 270.2,695.9 270.3,694.9 270.4,693.9 270.5,692.9 270.6,691.9 270.7,690.9 270.8,689.9 270.9,688.9 271.0,687.9 271.1,686.9 271.2,685.9 271.3,684.9 271.4,683.9 271.5,682.9 271.6,682.0 271.7,681.0 271.8,680.0 271.8,679.0 271.9,678.0 272.0,677.0 272.1,676.0 272.2,675.0 272.3,674.0 272.4,673.0 272.4,672.0 272.5,671.0 272.6,670.0 272.7,669.0 272.8,668.0 272.9,667.0 272.9,666.0 273.0,665.0 273.1,664.0 273.2,663.0 273.2,662.1 273.3,661.1 273.4,660.1 273.5,659.1 273.5,658.1 273.6,657.1 273.7,656.1 273.8,655.1 273.8,654.1 273.9,653.1 274.0,652.1 274.0,651.1 274.1,650.1 274.2,649.1 274.3,648.1 274.3,647.1 274.4,646.1 274.5,645.1 274.5,644.1 274.6,643.1 274.7,642.1 274.7,641.1 274.8,640.1 274.8,639.1 274.9,638.1 275.0,637.1 275.0,636.1 275.1,635.1 275.2,634.1 275.2,633.1 275.3,632.1 275.3,631.1 275.4,630.1 275.5,629.1 275.5,628.1 275.6,627.1 275.6,626.1 275.7,625.1 275.8,624.1 275.8,623.1 275.9,622.2 275.9,621.2 276.0,620.2 276.0,619.2 276.1,618.2 276.2,617.2 276.2,616.2 276.3,615.2 276.3,614.2 276.4,613.2 276.4,612.2 276.5,611.2 276.5,610.2 276.6,609.2 276.6,608.2 276.7,607.2 276.7,606.2 276.8,605.2 276.9,604.2 276.9,603.2 277.0,602.2 277.0,601.2 277.1,600.2 277.1,599.2 277.2,598.2 277.2,597.2 277.3,596.2 277.3,595.2 277.4,594.2 277.4,593.2 277.5,592.2 277.5,591.2 277.6,590.2 277.6,589.2 277.7,588.2 277.7,587.2 277.8,586.2 277.8,585.2 277.8,584.2 277.9,583.2 277.9,582.2 278.0,581.2 278.0,580.2 278.1,579.2 278.1,578.2 278.2,577.2 278.2,576.2 278.3,575.2 278.3,574.2 278.4,573.2 278.4,572.2 278.5,571.2 278.5,570.2 278.6,569.2 278.6,568.2 278.7,567.2 278.7,566.2 278.8,565.2 278.8,564.2 278.9,563.2 278.9,562.2 278.9,561.2 279.0,560.2 279.0,559.2 279.1,558.2 279.1,557.2 279.2,556.2 279.2,555.2 279.3,554.2 279.3,553.2 279.4,552.2 279.4,551.2 279.5,550.2 279.5,549.2 279.6,548.2 279.6,547.2 279.6,546.2 279.7,545.2 279.7,544.2 279.8,543.2 279.8,542.2 279.9,541.2 279.9,540.2 280.0,539.2 280.0,538.2 280.1,537.2 280.1,536.2 280.1,535.2 280.2,534.2 280.2,533.2 280.3,532.3 280.3,531.3 280.4,530.3 280.4,529.3 280.5,528.3 280.5,527.3 280.6,526.3 280.6,525.3 280.6,524.3 280.7,523.3 280.7,522.3 280.8,521.3 280.8,520.3 280.9,519.3 280.9,518.3 281.0,517.3 281.0,516.3 281.0,515.3 281.1,514.3 281.1,513.3 281.2,512.3 281.2,511.3 281.3,510.3 281.3,509.3 281.3,508.3 281.4,507.3 281.4,506.3 281.5,505.3 281.5,504.3 281.6,503.3 281.6,502.3 281.7,501.3 281.7,500.3 281.7,499.3 281.8,498.3 281.8,497.3 281.9,496.3 281.9,495.3 282.0,494.3 282.0,493.3 282.0,492.3 282.1,491.3 282.1,490.3 282.2,489.3 282.2,488.3 282.3,487.3 282.3,486.3 282.3,485.3 282.4,484.3 282.4,483.3 282.5,482.3 282.5,481.3 282.6,480.4 282.6,479.4 282.6,478.4 282.7,477.4 282.7,476.4 282.8,475.4 282.8,474.4 282.9,473.4 282.9,472.4 282.9,471.4 283.0,470.4 283.0,469.4 283.1,468.4 283.1,467.4 283.1,466.4 283.2,465.4 283.2,464.4 283.3,463.4 283.3,462.4 283.4,461.4 283.4,460.4 283.4,459.4 283.5,458.4 283.5,457.4 283.6,456.4 283.6,455.4 283.6,454.4 283.7,453.4 283.7,452.4 283.8,451.4 283.8,450.4 283.9,449.4 283.9,448.4 283.9,447.4 284.0,446.4 284.0,445.4 284.1,444.4 284.1,443.4 284.1,442.4 284.2,441.4 284.2,440.4 284.3,439.4 284.3,438.4 284.3,437.4 284.4,436.4 284.4,435.4 284.5,434.4 284.5,433.4 284.6,432.4 284.6,431.4 284.6,430.4 284.7,429.5 284.7,428.5 284.8,427.5 284.8,426.5 284.8,425.5 284.9,424.5 284.9,423.5 285.0,422.5 285.0,421.5 285.0,420.5 285.1,419.5 285.1,418.5 285.2,417.5 285.2,416.5 285.2,415.5 285.3,414.5 285.3,413.5 285.4,412.5 285.4,411.5 285.4,410.5 285.5,409.5 285.5,408.5 285.6,407.5 285.6,406.5 285.6,405.5 285.7,404.5 285.7,403.5 285.8,402.5 285.8,401.5 285.8,400.5 285.9,399.5 285.9,398.5 286.0,397.5 286.0,396.5 286.0,395.5 286.1,394.5 286.1,393.5 286.2,392.5 286.2,391.5 286.2,390.5 286.3,389.5 286.3,388.5 286.3,387.5 286.4,386.5 286.4,385.5 286.5,384.5 286.5,383.5 286.5,382.5 286.6,381.5 286.6,380.5 286.7,379.5 286.7,378.5 286.7,377.5 286.8,376.5 286.8,375.5 286.9,374.5 286.9,373.5 286.9,372.5 287.0,371.5 287.0,370.5 287.1,369.5 287.1,368.5 287.1,367.5 287.2,366.5 287.2,365.5 287.2,364.5 287.3,363.5 287.3,362.5 287.4,361.5 287.4,360.5 287.4,359.5 287.5,358.5 287.5,357.5 287.6,356.5 287.6,355.5 287.6,354.5 287.7,353.5 287.7,352.5 287.8,351.5 287.8,350.5 287.8,349.5 287.9,348.6 287.9,347.6 287.9,346.6 288.0,345.6 288.0,344.6 288.1,343.6 288.1,342.6 288.1,341.6 288.2,340.6 288.2,339.6 288.3,338.6 288.3,337.6 288.3,336.6 288.4,335.6 288.4,334.6 288.5,333.6" stroke="#000" stroke-width="2.95"/>
<path d="M90.7,859.3 91.8,858.9 92.8,858.5 93.8,858.0 94.8,857.6 95.8,857.1 96.7,856.6 97.6,856.1 98.5,855.5 99.3,855.0 100.2,854.4 101.0,853.8 101.7,853.1 102.5,852.5 103.2,851.8 103.9,851.2 104.6,850.5 105.3,849.8 106.0,849.1 106.6,848.3 107.2,847.6 107.8,846.8 108.4,846.0 108.9,845.2 109.5,844.4 110.0,843.6 110.5,842.8 111.0,842.0 111.5,841.1 111.9,840.2 112.4,839.4 112.8,838.5 113.2,837.6 113.6,836.7 114.0,835.8 114.4,834.9 114.8,834.0 115.1,833.0 115.5,832.1 115.8,831.2 116.2,830.2 116.5,829.3 116.8,828.3 117.1,827.3 117.4,826.4 117.8,825.4 118.0,824.4 118.3,823.4 118.6,822.5 118.9,821.5 119.2,820.5 119.5,819.5 119.7,818.5 120.0,817.6 120.3,816.6 120.6,815.6 120.8,814.6 121.1,813.6 121.4,812.7 121.7,811.7 121.9,810.7 122.2,809.7 122.5,808.8 122.8,807.8 123.1,806.8 123.3,805.9 123.6,804.9 123.9,804.0 124.2,803.0 124.5,802.0 124.8,801.1 125.0,800.1 125.3,799.2 125.6,798.2 125.9,797.3 126.2,796.3 126.5,795.4 126.8,794.4 127.1,793.5 127.3,792.5 127.6,791.6 127.9,790.6 128.2,789.7 128.5,788.8 128.8,787.8 129.1,786.9 129.4,785.9 129.7,785.0 130.0,784.0 130.3,783.1 130.6,782.2 130.9,781.2 131.2,780.3 131.5,779.3 131.8,778.4 132.1,777.4 132.4,776.5 132.6,775.6 132.9,774.6 133.2,773.7 133.5,772.7 133.8,771.8 134.1,770.8 134.4,769.9 134.7,768.9 135.0,768.0 135.3,767.1 135.6,766.1 135.9,765.2 136.2,764.2 136.5,763.2 136.8,762.3 137.1,761.3 137.4,760.4 137.7,759.4 138.0,758.5 138.3,757.5 138.6,756.5 138.9,755.6 139.2,754.6 139.5,753.7 139.8,752.7 140.1,751.7 140.4,750.8 140.7,749.8 141.0,748.8 141.3,747.9 141.6,746.9 141.9,746.0 142.2,745.0 142.5,744.0 142.8,743.1 143.2,742.1 143.5,741.2 143.8,740.2 144.1,739.2 144.5,738.3 144.8,737.3 145.2,736.4 145.5,735.4 145.9,734.5 146.2,733.5 146.6,732.6 147.0,731.7 147.3,730.7 147.7,729.8 148.1,728.9 148.5,727.9 148.9,727.0 149.3,726.1 149.7,725.2 150.1,724.3 150.6,723.4 151.0,722.5 151.4,721.6 151.9,720.7 152.3,719.8 152.8,718.9 153.3,718.0 153.8,717.1 154.3,716.3 154.8,715.4 155.3,714.5 155.8,713.7 156.3,712.8 156.8,712.0 157.4,711.1 157.9,710.3 158.5,709.5 159.1,708.7 159.7,707.9 160.3,707.0 160.9,706.2 161.5,705.5 162.1,704.7 162.8,703.9 163.4,703.1 164.1,702.3 164.8,701.6 165.5,700.8 166.2,700.1 166.9,699.4 167.6,698.7 168.4,698.0 169.1,697.4 169.9,696.8 170.7,696.2 171.5,695.6 172.3,695.1 173.1,694.6 173.9,694.1 174.8,693.7 175.6,693.3 176.5,693.0 177.4,692.7 178.3,692.4 179.2,692.3 180.1,692.1 181.0,692.1 182.0,692.0 182.9,692.1 183.9,692.2 184.9,692.4 185.9,692.5 186.9,692.8 187.9,693.0 188.9,693.3 189.9,693.6 191.0,694.0 192.0,694.3 193.0,694.6 194.0,695.0 195.1,695.3 196.1,695.6 197.1,695.9 198.1,696.2 199.1,696.5 200.1,696.7 201.0,696.9 202.0,697.0 203.0,697.1 203.9,697.2 204.8,697.2 205.7,697.2 206.6,697.1 207.5,696.9 208.3,696.7 209.1,696.4 209.9,696.0 210.7,695.6 211.4,695.1 212.1,694.6 212.8,694.0 213.5,693.4 214.2,692.7 214.9,692.0 215.5,691.3 216.1,690.6 216.7,689.8 217.3,689.1 217.9,688.3 218.5,687.6 219.1,686.8 219.6,686.0 220.2,685.2 220.7,684.4 221.2,683.6 221.7,682.8 222.2,681.9 222.7,681.1 223.2,680.3 223.7,679.4 224.1,678.5 224.6,677.7 225.0,676.8 225.4,675.9 225.8,675.0 226.3,674.1 226.7,673.2 227.1,672.3 227.4,671.4 227.8,670.5 228.2,669.6 228.5,668.7 228.9,667.7 229.2,666.8 229.6,665.9 229.9,664.9 230.2,664.0 230.6,663.0 230.9,662.1 231.2,661.1 231.5,660.1 231.8,659.2 232.1,658.2 232.4,657.2 232.6,656.2 232.9,655.2 233.2,654.3 233.5,653.3 233.7,652.3 234.0,651.3 234.2,650.3 234.5,649.3 234.7,648.3 235.0,647.3 235.2,646.3 235.4,645.3 235.7,644.3 235.9,643.3 236.1,642.3 236.4,641.3 236.6,640.3 236.8,639.2 237.0,638.2 237.3,637.2 237.5,636.2 237.7,635.2 237.9,634.2 238.1,633.2 238.4,632.2 238.6,631.2 238.8,630.2 239.0,629.2 239.2,628.2 239.5,627.2 239.7,626.2 239.9,625.2 240.1,624.2 240.3,623.2 240.6,622.2 240.8,621.2 241.0,620.2 241.2,619.2 241.5,618.3 241.7,617.3 241.9,616.3 242.1,615.3 242.4,614.3 242.6,613.3 242.8,612.4 243.0,611.4 243.3,610.4 243.5,609.4 243.7,608.4 243.9,607.5 244.2,606.5 244.4,605.5 244.6,604.6 244.9,603.6 245.1,602.6 245.3,601.6 245.6,600.7 245.8,599.7 246.0,598.7 246.3,597.8 246.5,596.8 246.7,595.8 247.0,594.9 247.2,593.9 247.4,592.9 247.7,592.0 247.9,591.0 248.1,590.1 248.4,589.1 248.6,588.1 248.9,587.2 249.1,586.2 249.3,585.3 249.6,584.3 249.8,583.3 250.1,582.4 250.3,581.4 250.6,580.5 250.8,579.5 251.1,578.6 251.3,577.6 251.5,576.7 251.8,575.7 252.0,574.7 252.3,573.8 252.5,572.8 252.8,571.9 253.0,570.9 253.3,570.0 253.6,569.0 253.8,568.1 254.1,567.1 254.3,566.2 254.6,565.2 254.8,564.3 255.1,563.3 255.3,562.4 255.6,561.4 255.9,560.5 256.1,559.5 256.4,558.6 256.7,557.6 256.9,556.6 257.2,555.7 257.4,554.7 257.7,553.8 258.0,552.8 258.2,551.9 258.5,550.9 258.8,550.0 259.1,549.0 259.3,548.1 259.6,547.1 259.9,546.2 260.1,545.2 260.4,544.2 260.7,543.3 261.0,542.3 261.2,541.4 261.5,540.4 261.8,539.5 262.1,538.5 262.4,537.5 262.6,536.6 262.9,535.6 263.2,534.7 263.5,533.7 263.8,532.7 264.1,531.8 264.4,530.8 264.6,529.9 264.9,528.9 265.2,527.9 265.5,527.0 265.8,526.0 266.1,525.0 266.4,524.1 266.7,523.1 267.0,522.1 267.3,521.2 267.6,520.2 267.9,519.2 268.2,518.2 268.5,517.3 268.8,516.3 269.1,515.3 269.4,514.4 269.7,513.4 270.1,512.4 270.4,511.5 270.7,510.5 271.1,509.5 271.4,508.6 271.8,507.7 272.2,506.7 272.6,505.8 273.0,504.9 273.4,503.9 273.8,503.0 274.2,502.1 274.7,501.2 275.1,500.3 275.6,499.5 276.1,498.6 276.6,497.8 277.2,496.9 277.7,496.1 278.3,495.3 278.9,494.5 279.5,493.7 280.1,492.9 280.8,492.1 281.4,491.4 282.1,490.7 282.8,490.0 283.6,489.3 284.3,488.6 285.1,488.0 285.9,487.4 286.7,486.8 287.5,486.2 288.4,485.7 289.2,485.2 290.1,484.8 291.0,484.3 291.9,483.9 292.8,483.6 293.7,483.3 294.7,483.0 295.6,482.8 296.6,482.6 297.6,482.4 298.5,482.3 299.5,482.2 300.5,482.1 301.5,482.1 302.5,482.1 303.5,482.2 304.5,482.2 305.5,482.3 306.5,482.5 307.5,482.6 308.5,482.8 309.5,483.1 310.5,483.3 311.5,483.6 312.5,483.9 313.4,484.2 314.4,484.6 315.3,485.0 316.2,485.4 317.1,485.8 318.0,486.3 318.9,486.8 319.8,487.3 320.6,487.8 321.4,488.3 322.2,488.9 323.0,489.5 323.8,490.1 324.5,490.7 325.3,491.4 326.0,492.0 326.7,492.7 327.4,493.4 328.1,494.1 328.8,494.8 329.5,495.5 330.1,496.2 330.8,497.0 331.4,497.7 332.1,498.5 332.7,499.3 333.4,500.1 334.0,500.8 334.6,501.6 335.2,502.4 335.8,503.2 336.5,504.0 337.1,504.8 337.7,505.6 338.3,506.4 338.9,507.2 339.6,508.0 340.2,508.8 340.8,509.6 341.4,510.4 342.1,511.2 342.7,511.9 343.3,512.7 344.0,513.5 344.6,514.3 345.2,515.1 345.9,515.9 346.5,516.6 347.2,517.4 347.8,518.2 348.5,519.0 349.1,519.7 349.8,520.5 350.5,521.2 351.1,522.0 351.8,522.8 352.5,523.5 353.1,524.3 353.8,525.0 354.5,525.7 355.2,526.5 355.9,527.2 356.5,528.0 357.2,528.7 357.9,529.4 358.6,530.1 359.3,530.8 360.0,531.6 360.7,532.3 361.5,533.0 362.2,533.7 362.9,534.4 363.6,535.1 364.3,535.7 365.1,536.4 365.8,537.1 366.5,537.8 367.3,538.4 368.0,539.1 368.8,539.8 369.5,540.4 370.3,541.1 371.0,541.7 371.8,542.3 372.6,543.0 373.3,543.6 374.1,544.2 374.9,544.8 375.7,545.4 376.5,546.0 377.3,546.6 378.0,547.2 378.9,547.8 379.7,548.3 380.5,548.9 381.3,549.5 382.1,550.0 382.9,550.6 383.8,551.1 384.6,551.6 385.4,552.2 386.3,552.7 387.1,553.2 388.0,553.7 388.8,554.2 389.7,554.7 390.6,555.1 391.4,555.6 392.3,556.1 393.2,556.5 394.1,557.0 395.0,557.4 395.9,557.9 396.8,558.3 397.7,558.7 398.6,559.1 399.5,559.5 400.4,559.9 401.3,560.3 402.2,560.6 403.2,561.0 404.1,561.4 405.0,561.7 406.0,562.1 406.9,562.4 407.8,562.7 408.8,563.1 409.7,563.4 410.7,563.7 411.6,564.0 412.6,564.3 413.5,564.6 414.5,565.0 415.4,565.3 416.4,565.6 417.3,565.9 418.3,566.2 419.3,566.4 420.2,566.7 421.2,567.0 422.1,567.3 423.1,567.6 424.0,567.9 425.0,568.2 426.0,568.5 426.9,568.8 427.9,569.1 428.8,569.4 429.8,569.7 430.8,570.0 431.7,570.3 432.7,570.6 433.6,570.9 434.6,571.2 435.5,571.5 436.5,571.8 437.4,572.1 438.4,572.4 439.3,572.7 440.3,573.0 441.2,573.3 442.2,573.6 443.1,573.9 444.1,574.2 445.0,574.5 446.0,574.9 446.9,575.2 447.9,575.5 448.8,575.8 449.8,576.1 450.7,576.4 451.7,576.8 452.6,577.1 453.5,577.4 454.5,577.8 455.4,578.1 456.4,578.4 457.3,578.8 458.2,579.1 459.2,579.4 460.1,579.8 461.0,580.1 462.0,580.5 462.9,580.8 463.8,581.2 464.8,581.5 465.7,581.9 466.6,582.2 467.5,582.6 468.5,583.0 469.4,583.3 470.3,583.7 471.2,584.1 472.2,584.4 473.1,584.8 474.0,585.2 474.9,585.6 475.8,586.0 476.7,586.4 477.6,586.8 478.6,587.1 479.5,587.5 480.4,587.9 481.3,588.4 482.2,588.8 483.1,589.2 484.0,589.6 484.9,590.0 485.8,590.4 486.7,590.9 487.6,591.3 488.5,591.7 489.4,592.2 490.3,592.6 491.2,593.0 492.1,593.5 493.0,593.9 493.8,594.4 494.7,594.8 495.6,595.3 496.5,595.7 497.4,596.2 498.3,596.7 499.2,597.1 500.0,597.6 500.9,598.1 501.8,598.5 502.7,599.0 503.6,599.5 504.5,599.9 505.3,600.4 506.2,600.9 507.1,601.3 508.0,601.8 508.9,602.3 509.8,602.8 510.6,603.2 511.5,603.7 512.4,604.2 513.3,604.6 514.2,605.1 515.1,605.6 515.9,606.0 516.8,606.5 517.7,606.9 518.6,607.4 519.5,607.9 520.4,608.3 521.3,608.8 522.2,609.2 523.0,609.7 523.9,610.1 524.8,610.6 525.7,611.0 526.6,611.4 527.5,611.9 528.4,612.3 529.3,612.7 530.2,613.1 531.1,613.6 532.0,614.0 533.0,614.4 533.9,614.8 534.8,615.2 535.7,615.6 536.6,616.0 537.5,616.3 538.4,616.7 539.4,617.1 540.3,617.5 541.2,617.8 542.1,618.2 543.1,618.5 544.0,618.9 545.0,619.2 545.9,619.6 546.8,619.9 547.8,620.2 548.7,620.5 549.7,620.8 550.6,621.1 551.6,621.4 552.6,621.7 553.5,622.0 554.5,622.2 555.4,622.5 556.4,622.8 557.4,623.1 558.3,623.3 559.3,623.6 560.3,623.9 561.2,624.1 562.2,624.4 563.2,624.7 564.1,625.0 565.1,625.3 566.1,625.5 567.0,625.8 568.0,626.2 568.9,626.5 569.9,626.8 570.8,627.1 571.7,627.5 572.7,627.8 573.6,628.2 574.5,628.6 575.5,629.0 576.4,629.4 577.3,629.8 578.2,630.3 579.1,630.7 580.0,631.1 580.9,631.6 581.8,632.0 582.7,632.5 583.6,632.9 584.5,633.3 585.4,633.8 586.3,634.2 587.2,634.6 588.2,635.0 589.1,635.4 590.0,635.7 590.9,636.1 591.8,636.4 592.8,636.8 593.7,637.1 594.7,637.4 595.6,637.7 596.5,638.0 597.5,638.3 598.4,638.6 599.4,638.8 600.4,639.1 601.3,639.3 602.3,639.6 603.2,639.8 604.2,640.0 605.2,640.2 606.1,640.4 607.1,640.6 608.1,640.8 609.1,641.0 610.1,641.2 611.0,641.4 612.0,641.6 613.0,641.7 614.0,641.9 615.0,642.1 615.9,642.2 616.9,642.4 617.9,642.6 618.9,642.7 619.9,642.9 620.9,643.0 621.9,643.2 622.9,643.3 623.9,643.5 624.8,643.6 625.8,643.8 626.8,643.9 627.8,644.1 628.8,644.2 629.8,644.4 630.8,644.5 631.8,644.7 632.8,644.8 633.8,645.0 634.7,645.2 635.7,645.3 636.7,645.5 637.7,645.7 638.7,645.9 639.7,646.1 640.6,646.3 641.6,646.5 642.6,646.7 643.6,646.9 644.5,647.1 645.5,647.4 646.5,647.6 647.4,647.9 648.4,648.1 649.4,648.4 650.3,648.7 651.3,648.9 652.2,649.2 653.2,649.5 654.1,649.9 655.1,650.2 656.0,650.5 657.0,650.9 657.9,651.2 658.8,651.6 659.8,652.0 660.7,652.4 661.6,652.8 662.5,653.2 663.5,653.7" stroke="#08908c" stroke-width="2.7" stroke-dasharray="9.6 4.1"/>
</g>
<g stroke="#08908c" stroke-width="2.6" fill="none" stroke-linecap="round" stroke-linejoin="round">
<path d="M136.6,653V689M131.3,679L136.6,689.3L141.9,679"/>
<path d="M302.3,538.5V502.6M297.0,512.6L302.3,502.4L307.6,512.6"/>
</g>
<rect x="90.8" y="8.6" width="571.4000000000001" height="404.79999999999995" fill="none" stroke="#000" stroke-width="2.06"/>
<path d="M90.80,413.40v-9.03M233.65,413.40v-9.03M376.50,413.40v-9.03M519.35,413.40v-9.03M662.20,413.40v-9.03" stroke="#000" stroke-width="2.06" fill="none"/>
<path d="M90.80,8.60v9.03M233.65,8.60v9.03M376.50,8.60v9.03M519.35,8.60v9.03M662.20,8.60v9.03" stroke="#000" stroke-width="2.06" fill="none"/>
<path d="M162.23,413.40v-5.16M305.07,413.40v-5.16M447.93,413.40v-5.16M590.77,413.40v-5.16" stroke="#000" stroke-width="1.55" fill="none"/>
<path d="M162.23,8.60v5.16M305.07,8.60v5.16M447.93,8.60v5.16M590.77,8.60v5.16" stroke="#000" stroke-width="1.55" fill="none"/>
<rect x="90.8" y="454.5" width="571.4000000000001" height="404.79999999999995" fill="none" stroke="#000" stroke-width="2.06"/>
<path d="M90.80,859.30v-9.03M233.65,859.30v-9.03M376.50,859.30v-9.03M519.35,859.30v-9.03M662.20,859.30v-9.03" stroke="#000" stroke-width="2.06" fill="none"/>
<path d="M90.80,454.50v9.03M233.65,454.50v9.03M376.50,454.50v9.03M519.35,454.50v9.03M662.20,454.50v9.03" stroke="#000" stroke-width="2.06" fill="none"/>
<path d="M162.23,859.30v-5.16M305.07,859.30v-5.16M447.93,859.30v-5.16M590.77,859.30v-5.16" stroke="#000" stroke-width="1.55" fill="none"/>
<path d="M162.23,454.50v5.16M305.07,454.50v5.16M447.93,454.50v5.16M590.77,454.50v5.16" stroke="#000" stroke-width="1.55" fill="none"/>
<path d="M90.80,413.40h9.03M90.80,278.50h9.03M90.80,143.60h9.03M90.80,8.70h9.03" stroke="#000" stroke-width="2.06" fill="none"/>
<path d="M662.20,413.40h-9.03M662.20,278.50h-9.03M662.20,143.60h-9.03M662.20,8.70h-9.03" stroke="#000" stroke-width="2.06" fill="none"/>
<path d="M90.80,345.95h5.16M90.80,211.05h5.16M90.80,76.15h5.16" stroke="#000" stroke-width="1.55" fill="none"/>
<path d="M662.20,345.95h-5.16M662.20,211.05h-5.16M662.20,76.15h-5.16" stroke="#000" stroke-width="1.55" fill="none"/>
<path d="M90.80,859.30h9.03M90.80,778.34h9.03M90.80,697.38h9.03M90.80,616.42h9.03M90.80,535.46h9.03M90.80,454.50h9.03" stroke="#000" stroke-width="2.06" fill="none"/>
<path d="M662.20,859.30h-9.03M662.20,778.34h-9.03M662.20,697.38h-9.03M662.20,616.42h-9.03M662.20,535.46h-9.03M662.20,454.50h-9.03" stroke="#000" stroke-width="2.06" fill="none"/>
<rect x="343.6" y="698.2" width="285.79999999999995" height="140.89999999999998" fill="#fff"/>
<g clip-path="url(#ci)">
<rect x="343.6" y="698.2" width="11.00" height="140.89999999999998" fill="#e6e6e6"/>
<path d="M343.6,808.38H629.4" stroke="#000" stroke-width="2.6" stroke-dasharray="2.6 4.19" fill="none"/>
<path d="M343.6,839.2 343.6,838.2 343.6,837.1 343.7,836.1 343.7,835.0 343.7,834.0 343.8,833.0 343.8,832.0 343.8,831.0 343.9,830.0 343.9,829.0 343.9,828.0 343.9,827.0 344.0,826.0 344.0,825.0 344.0,824.0 344.0,823.0 344.0,822.1 344.1,821.1 344.1,820.1 344.1,819.1 344.1,818.1 344.1,817.2 344.1,816.2 344.2,815.2 344.2,814.2 344.2,813.2 344.2,812.2 344.2,811.3 344.2,810.3 344.2,809.3 344.2,808.3 344.3,807.3 344.3,806.3 344.3,805.3 344.3,804.3 344.3,803.2 344.3,802.2 344.3,801.2 344.3,800.1 344.3,799.1 344.3,798.1 344.4,797.0 344.4,795.9 344.4,794.9 344.4,793.8 344.4,792.8 344.4,791.7 344.5,790.7 344.5,789.6 344.5,788.7 344.6,787.7 344.6,786.8 344.6,785.9 344.7,785.0 344.8,784.2 344.9,783.5 344.9,782.8 345.0,782.3 345.2,781.9 345.3,781.5 345.4,781.2 345.5,780.6 345.5,779.8 345.6,778.9 345.6,778.0 345.6,777.0 345.7,776.1 345.7,775.1 345.7,774.1 345.7,773.2 345.8,772.2 345.8,771.2 345.8,770.2 345.8,769.3 345.9,768.3 345.9,767.3 345.9,766.3 345.9,765.3 345.9,764.3 345.9,763.3 346.0,762.3 346.0,761.3 346.0,760.3 346.0,759.3 346.0,758.3 346.0,757.3 346.0,756.2 346.0,755.2 346.1,754.2 346.1,753.2 346.1,752.2 346.1,751.2 346.1,750.2 346.1,749.1 346.1,748.1 346.1,747.1 346.1,746.1 346.1,745.1 346.2,744.1 346.2,743.0 346.2,742.0 346.2,741.0 346.2,740.0 346.2,739.0 346.2,738.0 346.2,737.0 346.2,736.0 346.2,735.0 346.3,734.0 346.3,733.0 346.3,732.0 346.3,731.1 346.3,730.1 346.3,729.1 346.3,728.1 346.3,727.2 346.3,726.2 346.4,725.2 346.4,724.3 346.4,723.3 346.4,722.4 346.4,721.4 346.4,720.4 346.5,719.4 346.5,718.4 346.5,717.3 346.5,716.2 346.6,715.1 346.6,713.8 346.6,712.6 346.7,711.4 346.7,710.4 346.8,709.5 346.9,709.0 346.9,708.8 347.0,709.0 347.1,709.6 347.2,710.4 347.3,711.3 347.4,712.4 347.5,713.4 347.5,714.5 347.6,715.5 347.6,716.5 347.7,717.5 347.7,718.5 347.8,719.5 347.8,720.5 347.9,721.5 347.9,722.5 348.0,723.5 348.0,724.5 348.1,725.5 348.1,726.5 348.2,727.5 348.3,728.5 348.3,729.5 348.4,730.5 348.5,731.5 348.6,732.6 348.7,733.6 348.7,734.6 348.8,735.6 348.9,736.6 349.0,737.6 349.1,738.6 349.2,739.6 349.3,740.6 349.4,741.6 349.5,742.6 349.7,743.6 349.8,744.6 349.9,745.6 350.0,746.6 350.1,747.6 350.3,748.6 350.4,749.6 350.6,750.5 350.7,751.5 350.8,752.5 351.0,753.5 351.1,754.5 351.3,755.5 351.5,756.5 351.6,757.4 351.8,758.4 352.0,759.4 352.2,760.4 352.3,761.3 352.5,762.3 352.7,763.3 352.9,764.2 353.1,765.2 353.3,766.2 353.5,767.1 353.7,768.1 353.9,769.0 354.2,770.0 354.4,770.9 354.6,771.9 354.8,772.8 355.1,773.7 355.3,774.7 355.6,775.6 355.8,776.5 356.1,777.5 356.4,778.4 356.7,779.4 357.0,780.3 357.3,781.3 357.7,782.3 358.1,783.3 358.5,784.3 358.9,785.4 359.4,786.4 359.9,787.5 360.4,788.6 361.0,789.6 361.6,790.6 362.2,791.3 362.8,791.8 363.4,792.0 364.0,792.0 364.7,791.9 365.3,791.6 365.9,791.3 366.5,790.9 367.0,790.7 367.6,790.5 368.1,790.5 368.5,790.6 369.0,791.0 369.4,791.6 369.8,792.3 370.1,793.1 370.5,794.0 370.9,795.0 371.3,796.0 371.7,797.1 372.2,798.2 372.7,799.2 373.2,800.2 373.8,801.1 374.5,801.9 375.2,802.6 376.0,803.2 376.8,803.7 377.7,804.2 378.6,804.5 379.5,804.8 380.4,805.1 381.4,805.3 382.4,805.5 383.3,805.6 384.3,805.7 385.3,805.8 386.3,805.8 387.2,805.9 388.2,805.9 389.2,805.8 390.2,805.8 391.2,805.8 392.2,805.7 393.2,805.6 394.2,805.5 395.1,805.4 396.1,805.3 397.1,805.2 398.1,805.1 399.1,805.0 400.1,804.9 401.1,804.8 402.1,804.7 403.1,804.6 404.1,804.5 405.1,804.4 406.0,804.3 407.0,804.3 408.0,804.2 409.0,804.2 410.0,804.2 410.9,804.2 411.9,804.3 412.9,804.3 413.9,804.4 414.8,804.5 415.8,804.7 416.7,804.9 417.7,805.0 418.7,805.3 419.6,805.5 420.6,805.7 421.5,805.9 422.5,806.1 423.4,806.3 424.4,806.5 425.4,806.6 426.3,806.7 427.3,806.8 428.3,806.8 429.3,806.8 430.2,806.8 431.2,806.7 432.2,806.6 433.2,806.5 434.2,806.3 435.2,806.2 436.2,806.1 437.2,806.0 438.2,805.9 439.2,805.9 440.2,805.8 441.2,805.8 442.2,805.7 443.2,805.7 444.2,805.7 445.2,805.6 446.2,805.6 447.2,805.6 448.1,805.6 449.1,805.6 450.1,805.7 451.1,805.7 452.1,805.7 453.1,805.7 454.1,805.8 455.1,805.8 456.1,805.8 457.0,805.9 458.0,805.9 459.0,805.9 460.0,806.0 461.0,806.0 462.0,806.1 463.0,806.1 464.0,806.1 465.0,806.2 465.9,806.2 466.9,806.2 467.9,806.3 468.9,806.3 469.9,806.3 470.9,806.3 471.9,806.4 472.9,806.4 473.9,806.4 474.9,806.4 475.8,806.4 476.8,806.5 477.8,806.5 478.8,806.5 479.8,806.5 480.8,806.5 481.8,806.5 482.8,806.5 483.8,806.5 484.8,806.6 485.8,806.6 486.8,806.6 487.7,806.6 488.7,806.6 489.7,806.6 490.7,806.6 491.7,806.6 492.7,806.6 493.7,806.6 494.7,806.6 495.7,806.6 496.7,806.6 497.7,806.6 498.7,806.6 499.7,806.6 500.7,806.6 501.7,806.6 502.7,806.6 503.7,806.6 504.7,806.6 505.7,806.6 506.6,806.6 507.6,806.6 508.6,806.6 509.6,806.5 510.6,806.5 511.6,806.5 512.6,806.5 513.6,806.5 514.6,806.5 515.6,806.5 516.6,806.5 517.6,806.5 518.6,806.5 519.6,806.5 520.6,806.5 521.6,806.5 522.6,806.5 523.6,806.5 524.6,806.5 525.6,806.4 526.6,806.4 527.6,806.4 528.6,806.4 529.6,806.4 530.6,806.4 531.6,806.4 532.6,806.4 533.6,806.4 534.6,806.4 535.6,806.4 536.6,806.4 537.6,806.4 538.6,806.4 539.6,806.4 540.6,806.4 541.6,806.4 542.6,806.4 543.6,806.4 544.6,806.4 545.6,806.4 546.6,806.4 547.6,806.4 548.6,806.4 549.6,806.4 550.6,806.5 551.6,806.5 552.6,806.5 553.6,806.5 554.6,806.5 555.6,806.5 556.6,806.5 557.6,806.5 558.6,806.6 559.7,806.6 560.7,806.6 561.7,806.6 562.7,806.6 563.7,806.7 564.7,806.7 565.7,806.7 566.7,806.7 567.7,806.8 568.7,806.8 569.7,806.8 570.7,806.8 571.7,806.9 572.7,806.9 573.7,806.9 574.7,807.0 575.7,807.0 576.7,807.0 577.7,807.0 578.7,807.1 579.7,807.1 580.7,807.1 581.7,807.2 582.7,807.2 583.7,807.2 584.7,807.3 585.7,807.3 586.8,807.3 587.8,807.3 588.8,807.4 589.8,807.4 590.8,807.4 591.8,807.5 592.7,807.5 593.7,807.5 594.7,807.5 595.7,807.6 596.7,807.6 597.7,807.6 598.7,807.6 599.7,807.7 600.7,807.7 601.7,807.7 602.7,807.7 603.7,807.7 604.7,807.8 605.7,807.8 606.7,807.8 607.7,807.8 608.7,807.8 609.6,807.8 610.6,807.8 611.6,807.8 612.6,807.8 613.6,807.8 614.6,807.8 615.6,807.8 616.5,807.8 617.5,807.8 618.5,807.8 619.5,807.8 620.5,807.8 621.4,807.8 622.4,807.7 623.4,807.7 624.4,807.7 625.3,807.7 626.3,807.7 627.3,807.6 628.3,807.6 629.2,807.6 630.2,807.5" stroke="#08908c" stroke-width="2.7" stroke-dasharray="9.6 4.1" fill="none" stroke-linejoin="round"/>
</g>
<rect x="343.6" y="698.2" width="285.79999999999995" height="140.89999999999998" fill="none" stroke="#000" stroke-width="2.06"/>
<path d="M343.50,839.10v-8.50M438.80,839.10v-8.50M534.10,839.10v-8.50M629.40,839.10v-8.50" stroke="#000" stroke-width="2.06" fill="none"/>
<path d="M343.50,698.20v8.50M438.80,698.20v8.50M534.10,698.20v8.50M629.40,698.20v8.50" stroke="#000" stroke-width="2.06" fill="none"/>
<path d="M391.15,839.10v-5.00M486.45,839.10v-5.00M581.75,839.10v-5.00" stroke="#000" stroke-width="1.55" fill="none"/>
<path d="M391.15,698.20v5.00M486.45,698.20v5.00M581.75,698.20v5.00" stroke="#000" stroke-width="1.55" fill="none"/>
<path d="M343.60,839.10h8.50M343.60,698.20h8.50" stroke="#000" stroke-width="2.06" fill="none"/>
<path d="M629.40,839.10h-8.50M629.40,698.20h-8.50" stroke="#000" stroke-width="2.06" fill="none"/>
<path d="M343.60,803.88h5.00M343.60,768.65h5.00M343.60,733.42h5.00" stroke="#000" stroke-width="1.55" fill="none"/>
<path d="M629.40,803.88h-5.00M629.40,768.65h-5.00M629.40,733.42h-5.00" stroke="#000" stroke-width="1.55" fill="none"/>
<path d="M525.1,337.7H578.8" stroke="#a6a6a6" stroke-width="2.6"/>
<path d="M526.0,376.6H578" stroke="#a6a6a6" stroke-width="2.6" stroke-dasharray="9.6 4.1"/>
<path d="M511.0,488.6H562" stroke="#08908c" stroke-width="2.7" stroke-dasharray="9.6 4.1"/>
<text transform="translate(41.44,422.83) scale(1.0470,1)" font-size="27.40" text-anchor="start" style="" fill="#000" stroke="#000" >0.0</text>
<text transform="translate(41.52,287.93) scale(1.0470,1)" font-size="27.40" text-anchor="start" style="" fill="#000" stroke="#000" >0.5</text>
<text transform="translate(41.44,153.03) scale(1.0470,1)" font-size="27.40" text-anchor="start" style="" fill="#000" stroke="#000" >1.0</text>
<text transform="translate(41.52,17.99) scale(1.0470,1)" font-size="27.40" text-anchor="start" style="" fill="#000" stroke="#000" >1.5</text>
<text transform="translate(41.44,868.73) scale(1.0470,1)" font-size="27.40" text-anchor="start" style="" fill="#000" stroke="#000" >0.0</text>
<text transform="translate(41.72,787.77) scale(1.0470,1)" font-size="27.40" text-anchor="start" style="" fill="#000" stroke="#000" >0.1</text>
<text transform="translate(41.76,706.81) scale(1.0470,1)" font-size="27.40" text-anchor="start" style="" fill="#000" stroke="#000" >0.2</text>
<text transform="translate(41.58,625.85) scale(1.0470,1)" font-size="27.40" text-anchor="start" style="" fill="#000" stroke="#000" >0.3</text>
<text transform="translate(41.16,544.89) scale(1.0470,1)" font-size="27.40" text-anchor="start" style="" fill="#000" stroke="#000" >0.4</text>
<text transform="translate(41.52,463.93) scale(1.0470,1)" font-size="27.40" text-anchor="start" style="" fill="#000" stroke="#000" >0.5</text>
<text transform="translate(82.82,887.53) scale(1.0470,1)" font-size="27.40" text-anchor="start" style="" fill="#000" stroke="#000" >0</text>
<text transform="translate(217.58,887.53) scale(1.0470,1)" font-size="27.40" text-anchor="start" style="" fill="#000" stroke="#000" >25</text>
<text transform="translate(360.53,887.53) scale(1.0470,1)" font-size="27.40" text-anchor="start" style="" fill="#000" stroke="#000" >50</text>
<text transform="translate(503.26,887.25) scale(1.0470,1)" font-size="27.40" text-anchor="start" style="" fill="#000" stroke="#000" >75</text>
<text transform="translate(637.74,887.53) scale(1.0470,1)" font-size="27.40" text-anchor="start" style="" fill="#000" stroke="#000" >100</text>
<text transform="translate(335.52,683.23) scale(1.0470,1)" font-size="27.40" text-anchor="start" style="" fill="#000" stroke="#000" >0</text>
<text transform="translate(430.43,683.50) scale(1.0470,1)" font-size="27.40" text-anchor="start" style="" fill="#000" stroke="#000" >1</text>
<text transform="translate(526.12,683.50) scale(1.0470,1)" font-size="27.40" text-anchor="start" style="" fill="#000" stroke="#000" >2</text>
<text transform="translate(621.51,683.23) scale(1.0470,1)" font-size="27.40" text-anchor="start" style="" fill="#000" stroke="#000" >3</text>
<text transform="translate(293.84,848.53) scale(1.0470,1)" font-size="27.40" text-anchor="start" style="" fill="#000" stroke="#000" >0.0</text>
<text transform="translate(293.92,707.63) scale(1.0470,1)" font-size="27.40" text-anchor="start" style="" fill="#000" stroke="#000" >0.5</text>
<text transform="translate(288.35,922.90) scale(1.0470,1)" font-size="27.40" text-anchor="start" style="" fill="#000" stroke="#000" >Energy (meV)</text>
<text transform="translate(410.75,654.00) scale(1.0470,1)" font-size="27.40" text-anchor="start" style="" fill="#000" stroke="#000" >Energy (eV)</text>
<text transform="translate(105.32,40.75) scale(1.0470,1)" font-size="27.40" text-anchor="start" style="" fill="#000" stroke="#000" >(a)</text>
<text transform="translate(105.32,486.75) scale(1.0470,1)" font-size="27.40" text-anchor="start" style="" fill="#000" stroke="#000" >(b)</text>
<g transform="translate(23.20,396.70) rotate(-90)">
<text transform="translate(-0.87,0.00) scale(0.953,1.000)" font-size="27.4" style="font-style:italic;" fill="#000" stroke="#000">σ</text>
<text transform="translate(15.62,4.60) scale(0.942,1.000)" font-size="19.2" style="font-style:italic;" fill="#000" stroke="#000">x</text>
<text transform="translate(26.62,4.60) scale(0.942,1.000)" font-size="19.2" style="font-style:italic;" fill="#000" stroke="#000">x</text>
<text transform="translate(36.05,0.00) scale(1.300,1.000)" font-size="27.4" style="" fill="#000" stroke="#000">,</text>
<text transform="translate(58.37,0.00) scale(1.008,1.000)" font-size="27.4" style="font-style:italic;" fill="#000" stroke="#000">e</text>
<text transform="translate(76.16,-9.70) scale(0.869,1.000)" font-size="19.2" style="" fill="#000" stroke="#000">2</text>
<text transform="translate(87.80,0.00) scale(1.130,1.000)" font-size="27.4" style="" fill="#000" stroke="#000">/</text>
<text transform="translate(95.70,0.00) scale(0.945,1.000)" font-size="27.4" style="" fill="#000" stroke="#000">2</text>
<text transform="translate(112.20,0.00) scale(0.887,1.000)" font-size="27.4" style="font-style:italic;" fill="#000" stroke="#000">ħ</text>
<text transform="translate(137.26,0.00) scale(0.993,1.000)" font-size="27.4" style="font-style:italic;" fill="#000" stroke="#000">K</text>
<text transform="translate(154.44,4.60) scale(0.961,1.000)" font-size="19.2" style="font-style:italic;" fill="#000" stroke="#000">x</text>
<text transform="translate(166.04,4.60) scale(0.961,1.000)" font-size="19.2" style="font-style:italic;" fill="#000" stroke="#000">x</text>
<text transform="translate(184.96,0.00) scale(0.964,1.000)" font-size="27.4" style="" fill="#000" stroke="#000">(</text>
<text transform="translate(195.51,0.00) scale(0.906,1.000)" font-size="27.4" style="" fill="#000" stroke="#000">1</text>
<text transform="translate(210.31,0.00) scale(1.023,1.000)" font-size="27.4" style="" fill="#000" stroke="#000">0</text>
<text transform="translate(227.87,-9.70) scale(1.000,1.000)" font-size="19.2" style="" fill="#000" stroke="#000">3</text>
<text transform="translate(247.26,0.00) scale(0.981,1.000)" font-size="27.4" style="" fill="#000" stroke="#000">Ω</text>
<text transform="translate(267.95,-9.70) scale(1.211,1.000)" font-size="19.2" style="" fill="#000" stroke="#000">−</text>
<text transform="translate(283.03,-9.70) scale(1.003,1.000)" font-size="19.2" style="" fill="#000" stroke="#000">1</text>
<text transform="translate(294.52,0.00) scale(1.100,1.000)" font-size="27.4" style="" fill="#000" stroke="#000">c</text>
<text transform="translate(309.18,0.00) scale(1.057,1.000)" font-size="27.4" style="" fill="#000" stroke="#000">m</text>
<text transform="translate(334.42,-9.70) scale(1.244,1.000)" font-size="19.2" style="" fill="#000" stroke="#000">−</text>
<text transform="translate(349.29,-9.70) scale(0.966,1.000)" font-size="19.2" style="" fill="#000" stroke="#000">1</text>
<text transform="translate(362.46,0.00) scale(0.867,1.000)" font-size="27.4" style="" fill="#000" stroke="#000">)</text>
</g>
<g transform="translate(23.20,842.30) rotate(-90)">
<text transform="translate(-0.87,0.00) scale(0.953,1.000)" font-size="27.4" style="font-style:italic;" fill="#000" stroke="#000">σ</text>
<text transform="translate(15.62,4.60) scale(0.942,1.000)" font-size="19.2" style="font-style:italic;" fill="#000" stroke="#000">x</text>
<text transform="translate(26.62,4.60) scale(0.942,1.000)" font-size="19.2" style="font-style:italic;" fill="#000" stroke="#000">x</text>
<text transform="translate(36.05,0.00) scale(1.300,1.000)" font-size="27.4" style="" fill="#000" stroke="#000">,</text>
<text transform="translate(58.37,0.00) scale(1.008,1.000)" font-size="27.4" style="font-style:italic;" fill="#000" stroke="#000">e</text>
<text transform="translate(76.16,-9.70) scale(0.869,1.000)" font-size="19.2" style="" fill="#000" stroke="#000">2</text>
<text transform="translate(87.80,0.00) scale(1.130,1.000)" font-size="27.4" style="" fill="#000" stroke="#000">/</text>
<text transform="translate(95.70,0.00) scale(0.945,1.000)" font-size="27.4" style="" fill="#000" stroke="#000">2</text>
<text transform="translate(112.20,0.00) scale(0.887,1.000)" font-size="27.4" style="font-style:italic;" fill="#000" stroke="#000">ħ</text>
<text transform="translate(137.26,0.00) scale(0.993,1.000)" font-size="27.4" style="font-style:italic;" fill="#000" stroke="#000">K</text>
<text transform="translate(154.44,4.60) scale(0.961,1.000)" font-size="19.2" style="font-style:italic;" fill="#000" stroke="#000">x</text>
<text transform="translate(166.04,4.60) scale(0.961,1.000)" font-size="19.2" style="font-style:italic;" fill="#000" stroke="#000">x</text>
<text transform="translate(184.96,0.00) scale(0.964,1.000)" font-size="27.4" style="" fill="#000" stroke="#000">(</text>
<text transform="translate(195.51,0.00) scale(0.906,1.000)" font-size="27.4" style="" fill="#000" stroke="#000">1</text>
<text transform="translate(210.31,0.00) scale(1.023,1.000)" font-size="27.4" style="" fill="#000" stroke="#000">0</text>
<text transform="translate(227.87,-9.70) scale(1.000,1.000)" font-size="19.2" style="" fill="#000" stroke="#000">3</text>
<text transform="translate(247.26,0.00) scale(0.981,1.000)" font-size="27.4" style="" fill="#000" stroke="#000">Ω</text>
<text transform="translate(267.95,-9.70) scale(1.211,1.000)" font-size="19.2" style="" fill="#000" stroke="#000">−</text>
<text transform="translate(283.03,-9.70) scale(1.003,1.000)" font-size="19.2" style="" fill="#000" stroke="#000">1</text>
<text transform="translate(294.52,0.00) scale(1.100,1.000)" font-size="27.4" style="" fill="#000" stroke="#000">c</text>
<text transform="translate(309.18,0.00) scale(1.057,1.000)" font-size="27.4" style="" fill="#000" stroke="#000">m</text>
<text transform="translate(334.42,-9.70) scale(1.244,1.000)" font-size="19.2" style="" fill="#000" stroke="#000">−</text>
<text transform="translate(349.29,-9.70) scale(0.966,1.000)" font-size="19.2" style="" fill="#000" stroke="#000">1</text>
<text transform="translate(362.46,0.00) scale(0.867,1.000)" font-size="27.4" style="" fill="#000" stroke="#000">)</text>
</g>
<text transform="translate(597.91,346.60) scale(0.978,1.000)" font-size="27.4" style="font-style:italic;" fill="#000" stroke="#000">σ</text>
<text transform="translate(614.81,350.30) scale(0.924,1.000)" font-size="19.2" style="font-style:italic;" fill="#000" stroke="#000">x</text>
<text transform="translate(625.61,350.30) scale(0.924,1.000)" font-size="19.2" style="font-style:italic;" fill="#000" stroke="#000">x</text>
<text transform="translate(598.01,384.00) scale(0.938,1.000)" font-size="27.4" style="font-style:italic;" fill="#000" stroke="#000">K</text>
<text transform="translate(615.61,387.90) scale(0.924,1.000)" font-size="19.2" style="font-style:italic;" fill="#000" stroke="#000">x</text>
<text transform="translate(626.41,387.90) scale(0.924,1.000)" font-size="19.2" style="font-style:italic;" fill="#000" stroke="#000">x</text>
<text transform="translate(582.40,495.70) scale(0.979,1.000)" font-size="27.4" style="" fill="#000" stroke="#000">Δ</text>
<text transform="translate(600.33,495.70) scale(0.911,1.000)" font-size="27.4" style="font-style:italic;" fill="#000" stroke="#000">K</text>
<text transform="translate(617.60,499.80) scale(0.915,1.000)" font-size="19.2" style="font-style:italic;" fill="#000" stroke="#000">x</text>
<text transform="translate(628.20,499.80) scale(0.915,1.000)" font-size="19.2" style="font-style:italic;" fill="#000" stroke="#000">x</text>
<text transform="translate(119.78,322.30) scale(1.101,1.000)" font-size="27.4" style="font-weight:bold;" fill="#c43300" stroke="#c43300">M</text>
<text transform="translate(150.20,327.20) scale(1.087,1.269)" font-size="27.4" fill="#c43300" stroke="none">‖</text>
<text transform="translate(167.80,322.50) scale(0.979,1.000)" font-size="27.4" style="font-style:italic;" fill="#c43300" stroke="#c43300">a</text>
<text transform="translate(319.10,372.60) scale(1.143,1.000)" font-size="27.4" style="font-weight:bold;" fill="#000" stroke="#000">M</text>
<text transform="translate(351.24,378.20) scale(0.904,1.294)" font-size="27.4" fill="#000" stroke="none">‖</text>
<text transform="translate(367.56,372.60) scale(1.048,1.000)" font-size="27.4" style="font-style:italic;" fill="#000" stroke="#000">c</text>
</svg>
</body></html>
